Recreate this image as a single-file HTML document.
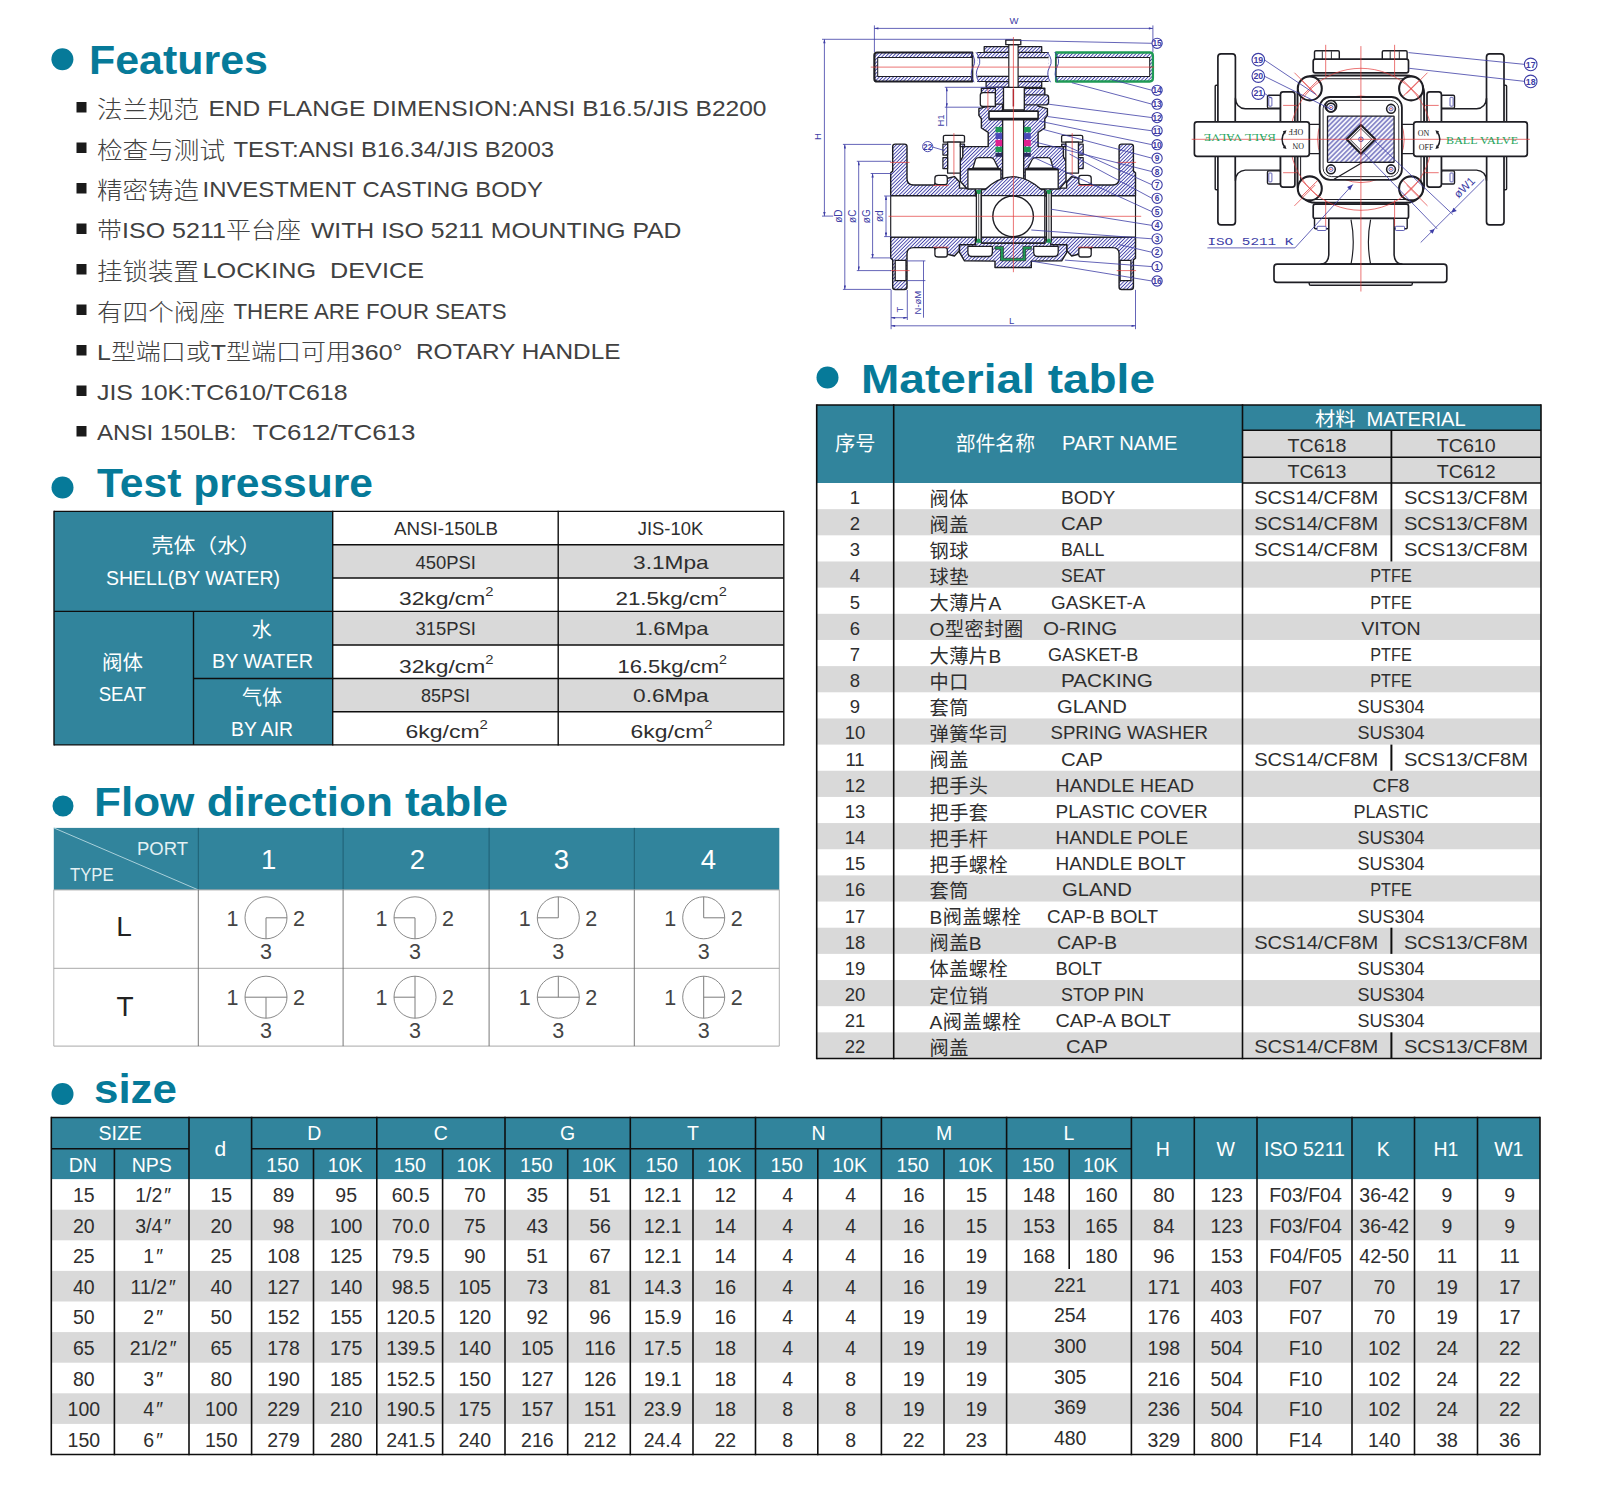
<!DOCTYPE html>
<html lang="zh">
<head>
<meta charset="utf-8">
<title>3-Way Flanged Ball Valve - Features, Test pressure, Flow direction, Material, Size</title>
<style>
html,body{margin:0;padding:0;background:#fff;}
body{width:1597px;height:1499px;overflow:hidden;}
svg{display:block;font-family:"Liberation Sans", "Noto Sans CJK SC", sans-serif;}
svg text{white-space:pre;}
</style>
</head>
<body>
<svg width="1597" height="1499" viewBox="0 0 1597 1499" xml:space="preserve">
<rect width="1597" height="1499" fill="#ffffff"/>
<g id="headings">
<circle cx="62.4" cy="59.3" r="11" fill="#067a99"/>
<text x="89.00" y="73.80" font-size="41" font-weight="bold" textLength="179.0" lengthAdjust="spacingAndGlyphs" fill="#067a99" >Features</text>
<circle cx="62.5" cy="487.5" r="11" fill="#067a99"/>
<text x="97.00" y="496.60" font-size="41" font-weight="bold" textLength="276.0" lengthAdjust="spacingAndGlyphs" fill="#067a99" >Test pressure</text>
<circle cx="63" cy="806" r="10.5" fill="#067a99"/>
<text x="94.00" y="815.60" font-size="41" font-weight="bold" textLength="414.0" lengthAdjust="spacingAndGlyphs" fill="#067a99" >Flow direction table</text>
<circle cx="62.5" cy="1094" r="11" fill="#067a99"/>
<text x="94.00" y="1103.00" font-size="41" font-weight="bold" textLength="83.0" lengthAdjust="spacingAndGlyphs" fill="#067a99" >size</text>
<circle cx="827.5" cy="377.5" r="11" fill="#067a99"/>
<text x="861.00" y="393.00" font-size="41" font-weight="bold" textLength="294.0" lengthAdjust="spacingAndGlyphs" fill="#067a99" >Material table</text>
</g>
<g id="features">
<rect x="76.50" y="102.00" width="10.00" height="10.50" fill="#1a1a1a" />
<text x="97.00" y="118.00" font-size="23.5" font-weight="300" textLength="102.0" lengthAdjust="spacingAndGlyphs" fill="#414141" >法兰规范</text>
<text x="208.50" y="116.00" font-size="22" textLength="558.0" lengthAdjust="spacingAndGlyphs" fill="#414141" >END FLANGE DIMENSION:ANSI B16.5/JIS B2200</text>
<rect x="76.50" y="142.50" width="10.00" height="10.50" fill="#1a1a1a" />
<text x="97.00" y="158.50" font-size="23.5" font-weight="300" textLength="128.0" lengthAdjust="spacingAndGlyphs" fill="#414141" >检查与测试</text>
<text x="233.50" y="156.50" font-size="22" textLength="320.5" lengthAdjust="spacingAndGlyphs" fill="#414141" >TEST:ANSI B16.34/JIS B2003</text>
<rect x="76.50" y="183.00" width="10.00" height="10.50" fill="#1a1a1a" />
<text x="97.00" y="199.00" font-size="23.5" font-weight="300" textLength="102.0" lengthAdjust="spacingAndGlyphs" fill="#414141" >精密铸造</text>
<text x="202.50" y="197.00" font-size="22" textLength="340.5" lengthAdjust="spacingAndGlyphs" fill="#414141" >INVESTMENT CASTING BODY</text>
<rect x="76.50" y="223.50" width="10.00" height="10.50" fill="#1a1a1a" />
<text x="97.00" y="238.30" font-size="22.5" font-weight="300" textLength="204.0" lengthAdjust="spacingAndGlyphs" fill="#414141" >带ISO 5211平台座</text>
<text x="311.00" y="237.50" font-size="22" textLength="370.5" lengthAdjust="spacingAndGlyphs" fill="#414141" >WITH ISO 5211 MOUNTING PAD</text>
<rect x="76.50" y="264.00" width="10.00" height="10.50" fill="#1a1a1a" />
<text x="97.00" y="280.00" font-size="23.5" font-weight="300" textLength="102.0" lengthAdjust="spacingAndGlyphs" fill="#414141" >挂锁装置</text>
<text x="202.50" y="278.00" font-size="22" textLength="221.5" lengthAdjust="spacingAndGlyphs" fill="#414141" >LOCKING  DEVICE</text>
<rect x="76.50" y="304.50" width="10.00" height="10.50" fill="#1a1a1a" />
<text x="97.00" y="320.50" font-size="23.5" font-weight="300" textLength="128.0" lengthAdjust="spacingAndGlyphs" fill="#414141" >有四个阀座</text>
<text x="233.50" y="318.50" font-size="22" textLength="273.0" lengthAdjust="spacingAndGlyphs" fill="#414141" >THERE ARE FOUR SEATS</text>
<rect x="76.50" y="345.00" width="10.00" height="10.50" fill="#1a1a1a" />
<text x="97.00" y="359.80" font-size="22.5" font-weight="300" textLength="305.5" lengthAdjust="spacingAndGlyphs" fill="#414141" >L型端口或T型端口可用360°</text>
<text x="416.00" y="359.00" font-size="22" textLength="204.5" lengthAdjust="spacingAndGlyphs" fill="#414141" >ROTARY HANDLE</text>
<rect x="76.50" y="385.50" width="10.00" height="10.50" fill="#1a1a1a" />
<text x="97.00" y="399.50" font-size="22" textLength="250.5" lengthAdjust="spacingAndGlyphs" fill="#414141" >JIS 10K:TC610/TC618</text>
<rect x="76.50" y="426.00" width="10.00" height="10.50" fill="#1a1a1a" />
<text x="97.00" y="440.00" font-size="22" textLength="139.5" lengthAdjust="spacingAndGlyphs" fill="#414141" >ANSI 150LB:</text>
<text x="252.50" y="440.00" font-size="22" textLength="163.0" lengthAdjust="spacingAndGlyphs" fill="#414141" >TC612/TC613</text>
</g>
<g id="test-pressure">
<rect x="54.00" y="511.40" width="278.70" height="233.50" fill="#31849c" />
<rect x="332.70" y="544.70" width="451.10" height="33.30" fill="#d9d9d9" />
<rect x="332.70" y="611.40" width="451.10" height="33.60" fill="#d9d9d9" />
<rect x="332.70" y="678.50" width="451.10" height="33.30" fill="#d9d9d9" />
<line x1="54.00" y1="611.40" x2="332.70" y2="611.40" stroke="#0e0e0e" stroke-width="1.4" />
<line x1="193.50" y1="611.40" x2="193.50" y2="744.90" stroke="#0e0e0e" stroke-width="1.4" />
<line x1="193.50" y1="678.50" x2="332.70" y2="678.50" stroke="#0e0e0e" stroke-width="1.4" />
<line x1="332.70" y1="511.40" x2="783.80" y2="511.40" stroke="#0e0e0e" stroke-width="1.4" />
<line x1="332.70" y1="544.70" x2="783.80" y2="544.70" stroke="#0e0e0e" stroke-width="1.4" />
<line x1="332.70" y1="578.00" x2="783.80" y2="578.00" stroke="#0e0e0e" stroke-width="1.4" />
<line x1="332.70" y1="611.40" x2="783.80" y2="611.40" stroke="#0e0e0e" stroke-width="1.4" />
<line x1="332.70" y1="645.00" x2="783.80" y2="645.00" stroke="#0e0e0e" stroke-width="1.4" />
<line x1="332.70" y1="678.50" x2="783.80" y2="678.50" stroke="#0e0e0e" stroke-width="1.4" />
<line x1="332.70" y1="711.80" x2="783.80" y2="711.80" stroke="#0e0e0e" stroke-width="1.4" />
<line x1="332.70" y1="744.90" x2="783.80" y2="744.90" stroke="#0e0e0e" stroke-width="1.4" />
<line x1="54.00" y1="511.40" x2="332.70" y2="511.40" stroke="#0e0e0e" stroke-width="1.4" />
<line x1="54.00" y1="744.90" x2="332.70" y2="744.90" stroke="#0e0e0e" stroke-width="1.4" />
<line x1="54.00" y1="510.70" x2="54.00" y2="745.60" stroke="#0e0e0e" stroke-width="1.4" />
<line x1="332.70" y1="510.70" x2="332.70" y2="745.60" stroke="#0e0e0e" stroke-width="1.4" />
<line x1="558.20" y1="510.70" x2="558.20" y2="745.60" stroke="#0e0e0e" stroke-width="1.4" />
<line x1="783.80" y1="510.70" x2="783.80" y2="745.60" stroke="#0e0e0e" stroke-width="1.4" />
<text x="151.50" y="553.00" font-size="20" textLength="109.5" lengthAdjust="spacingAndGlyphs" fill="#ffffff" >壳体（水）</text>
<text x="106.00" y="585.00" font-size="21" textLength="174.0" lengthAdjust="spacingAndGlyphs" fill="#ffffff" >SHELL(BY WATER)</text>
<text x="102.00" y="669.50" font-size="20" textLength="41.0" lengthAdjust="spacingAndGlyphs" fill="#ffffff" >阀体</text>
<text x="98.70" y="700.50" font-size="21" textLength="47.3" lengthAdjust="spacingAndGlyphs" fill="#ffffff" >SEAT</text>
<text x="261.70" y="636.50" font-size="20" text-anchor="middle" fill="#ffffff" >水</text>
<text x="212.00" y="668.00" font-size="21" textLength="101.0" lengthAdjust="spacingAndGlyphs" fill="#ffffff" >BY WATER</text>
<text x="242.00" y="704.50" font-size="20" textLength="40.0" lengthAdjust="spacingAndGlyphs" fill="#ffffff" >气体</text>
<text x="231.00" y="735.70" font-size="21" textLength="62.0" lengthAdjust="spacingAndGlyphs" fill="#ffffff" >BY AIR</text>
<text x="446.00" y="534.50" font-size="17.5" text-anchor="middle" textLength="104.0" lengthAdjust="spacingAndGlyphs" fill="#2e2e2e" >ANSI-150LB</text>
<text x="670.50" y="534.50" font-size="17.5" text-anchor="middle" textLength="65.5" lengthAdjust="spacingAndGlyphs" fill="#2e2e2e" >JIS-10K</text>
<text x="445.70" y="568.70" font-size="18.5" text-anchor="middle" textLength="60.5" lengthAdjust="spacingAndGlyphs" fill="#2e2e2e" >450PSI</text>
<text x="670.90" y="568.70" font-size="18.5" text-anchor="middle" textLength="75.7" lengthAdjust="spacingAndGlyphs" fill="#2e2e2e" >3.1Mpa</text>
<text x="446.20" y="604.50" font-size="18.5" text-anchor="middle" textLength="94.5" lengthAdjust="spacingAndGlyphs" fill="#2e2e2e" >32kg/cm<tspan font-size="12" dy="-9">2</tspan></text>
<text x="671.20" y="604.50" font-size="18.5" text-anchor="middle" textLength="111.5" lengthAdjust="spacingAndGlyphs" fill="#2e2e2e" >21.5kg/cm<tspan font-size="12" dy="-9">2</tspan></text>
<text x="445.70" y="635.00" font-size="18.5" text-anchor="middle" textLength="60.5" lengthAdjust="spacingAndGlyphs" fill="#2e2e2e" >315PSI</text>
<text x="671.80" y="635.00" font-size="18.5" text-anchor="middle" textLength="73.7" lengthAdjust="spacingAndGlyphs" fill="#2e2e2e" >1.6Mpa</text>
<text x="446.20" y="672.50" font-size="18.5" text-anchor="middle" textLength="94.5" lengthAdjust="spacingAndGlyphs" fill="#2e2e2e" >32kg/cm<tspan font-size="12" dy="-9">2</tspan></text>
<text x="672.20" y="672.50" font-size="18.5" text-anchor="middle" textLength="109.5" lengthAdjust="spacingAndGlyphs" fill="#2e2e2e" >16.5kg/cm<tspan font-size="12" dy="-9">2</tspan></text>
<text x="445.50" y="702.00" font-size="18.5" text-anchor="middle" textLength="49.0" lengthAdjust="spacingAndGlyphs" fill="#2e2e2e" >85PSI</text>
<text x="670.90" y="702.00" font-size="18.5" text-anchor="middle" textLength="75.7" lengthAdjust="spacingAndGlyphs" fill="#2e2e2e" >0.6Mpa</text>
<text x="446.70" y="737.50" font-size="18.5" text-anchor="middle" textLength="82.5" lengthAdjust="spacingAndGlyphs" fill="#2e2e2e" >6kg/cm<tspan font-size="12" dy="-9">2</tspan></text>
<text x="671.50" y="737.50" font-size="18.5" text-anchor="middle" textLength="82.0" lengthAdjust="spacingAndGlyphs" fill="#2e2e2e" >6kg/cm<tspan font-size="12" dy="-9">2</tspan></text>
</g>
<g id="flow-direction">
<rect x="53.80" y="827.90" width="725.50" height="62.00" fill="#31849c" />
<line x1="53.80" y1="827.90" x2="198.30" y2="889.90" stroke="#a9d0da" stroke-width="1" />
<line x1="198.30" y1="827.90" x2="198.30" y2="889.90" stroke="#1f5f72" stroke-width="1" />
<line x1="343.10" y1="827.90" x2="343.10" y2="889.90" stroke="#1f5f72" stroke-width="1" />
<line x1="489.10" y1="827.90" x2="489.10" y2="889.90" stroke="#1f5f72" stroke-width="1" />
<line x1="634.30" y1="827.90" x2="634.30" y2="889.90" stroke="#1f5f72" stroke-width="1" />
<line x1="53.80" y1="889.90" x2="779.30" y2="889.90" stroke="#a8a8a8" stroke-width="1" />
<line x1="53.80" y1="968.30" x2="779.30" y2="968.30" stroke="#a8a8a8" stroke-width="1" />
<line x1="53.80" y1="1046.10" x2="779.30" y2="1046.10" stroke="#a8a8a8" stroke-width="1" />
<line x1="53.80" y1="889.90" x2="53.80" y2="1046.10" stroke="#a8a8a8" stroke-width="0.9" />
<line x1="198.30" y1="889.90" x2="198.30" y2="1046.10" stroke="#6a6a6a" stroke-width="0.9" />
<line x1="343.10" y1="889.90" x2="343.10" y2="1046.10" stroke="#6a6a6a" stroke-width="0.9" />
<line x1="489.10" y1="889.90" x2="489.10" y2="1046.10" stroke="#6a6a6a" stroke-width="0.9" />
<line x1="634.30" y1="889.90" x2="634.30" y2="1046.10" stroke="#6a6a6a" stroke-width="0.9" />
<line x1="779.30" y1="889.90" x2="779.30" y2="1046.10" stroke="#a8a8a8" stroke-width="0.9" />
<text x="137.00" y="855.00" font-size="17.5" textLength="51.0" lengthAdjust="spacingAndGlyphs" fill="#e4f1f4" >PORT</text>
<text x="70.00" y="880.50" font-size="17.5" textLength="43.7" lengthAdjust="spacingAndGlyphs" fill="#e4f1f4" >TYPE</text>
<text x="268.70" y="868.70" font-size="27.5" text-anchor="middle" fill="#ffffff" >1</text>
<text x="417.50" y="868.70" font-size="27.5" text-anchor="middle" fill="#ffffff" >2</text>
<text x="561.50" y="868.70" font-size="27.5" text-anchor="middle" fill="#ffffff" >3</text>
<text x="708.50" y="868.70" font-size="27.5" text-anchor="middle" fill="#ffffff" >4</text>
<text x="124.00" y="936.00" font-size="28" text-anchor="middle" fill="#222" >L</text>
<text x="125.00" y="1015.70" font-size="28" text-anchor="middle" fill="#222" >T</text>
<circle cx="266" cy="917.8" r="21" fill="none" stroke="#7c7c7c" stroke-width="0.9"/>
<line x1="266.00" y1="917.80" x2="287.00" y2="917.80" stroke="#7c7c7c" stroke-width="1" />
<line x1="266.00" y1="917.80" x2="266.00" y2="938.80" stroke="#7c7c7c" stroke-width="1" />
<text x="232.50" y="925.80" font-size="21.5" text-anchor="middle" fill="#444" >1</text>
<text x="299.00" y="925.80" font-size="21.5" text-anchor="middle" fill="#444" >2</text>
<text x="266.00" y="958.60" font-size="21.5" text-anchor="middle" fill="#444" >3</text>
<circle cx="415" cy="917.8" r="21" fill="none" stroke="#7c7c7c" stroke-width="0.9"/>
<line x1="394.00" y1="917.80" x2="415.00" y2="917.80" stroke="#7c7c7c" stroke-width="1" />
<line x1="415.00" y1="917.80" x2="415.00" y2="938.80" stroke="#7c7c7c" stroke-width="1" />
<text x="381.50" y="925.80" font-size="21.5" text-anchor="middle" fill="#444" >1</text>
<text x="448.00" y="925.80" font-size="21.5" text-anchor="middle" fill="#444" >2</text>
<text x="415.00" y="958.60" font-size="21.5" text-anchor="middle" fill="#444" >3</text>
<circle cx="558.3" cy="917.8" r="21" fill="none" stroke="#7c7c7c" stroke-width="0.9"/>
<line x1="537.30" y1="917.80" x2="558.30" y2="917.80" stroke="#7c7c7c" stroke-width="1" />
<line x1="558.30" y1="896.80" x2="558.30" y2="917.80" stroke="#7c7c7c" stroke-width="1" />
<text x="524.80" y="925.80" font-size="21.5" text-anchor="middle" fill="#444" >1</text>
<text x="591.30" y="925.80" font-size="21.5" text-anchor="middle" fill="#444" >2</text>
<text x="558.30" y="958.60" font-size="21.5" text-anchor="middle" fill="#444" >3</text>
<circle cx="703.7" cy="917.8" r="21" fill="none" stroke="#7c7c7c" stroke-width="0.9"/>
<line x1="703.70" y1="896.80" x2="703.70" y2="917.80" stroke="#7c7c7c" stroke-width="1" />
<line x1="703.70" y1="917.80" x2="724.70" y2="917.80" stroke="#7c7c7c" stroke-width="1" />
<text x="670.20" y="925.80" font-size="21.5" text-anchor="middle" fill="#444" >1</text>
<text x="736.70" y="925.80" font-size="21.5" text-anchor="middle" fill="#444" >2</text>
<text x="703.70" y="958.60" font-size="21.5" text-anchor="middle" fill="#444" >3</text>
<circle cx="266" cy="997.2" r="21" fill="none" stroke="#7c7c7c" stroke-width="0.9"/>
<line x1="245.00" y1="997.20" x2="287.00" y2="997.20" stroke="#7c7c7c" stroke-width="1" />
<line x1="266.00" y1="997.20" x2="266.00" y2="1018.20" stroke="#7c7c7c" stroke-width="1" />
<text x="232.50" y="1005.20" font-size="21.5" text-anchor="middle" fill="#444" >1</text>
<text x="299.00" y="1005.20" font-size="21.5" text-anchor="middle" fill="#444" >2</text>
<text x="266.00" y="1038.00" font-size="21.5" text-anchor="middle" fill="#444" >3</text>
<circle cx="415" cy="997.2" r="21" fill="none" stroke="#7c7c7c" stroke-width="0.9"/>
<line x1="415.00" y1="976.20" x2="415.00" y2="1018.20" stroke="#7c7c7c" stroke-width="1" />
<line x1="394.00" y1="997.20" x2="415.00" y2="997.20" stroke="#7c7c7c" stroke-width="1" />
<text x="381.50" y="1005.20" font-size="21.5" text-anchor="middle" fill="#444" >1</text>
<text x="448.00" y="1005.20" font-size="21.5" text-anchor="middle" fill="#444" >2</text>
<text x="415.00" y="1038.00" font-size="21.5" text-anchor="middle" fill="#444" >3</text>
<circle cx="558.3" cy="997.2" r="21" fill="none" stroke="#7c7c7c" stroke-width="0.9"/>
<line x1="537.30" y1="997.20" x2="579.30" y2="997.20" stroke="#7c7c7c" stroke-width="1" />
<line x1="558.30" y1="976.20" x2="558.30" y2="997.20" stroke="#7c7c7c" stroke-width="1" />
<text x="524.80" y="1005.20" font-size="21.5" text-anchor="middle" fill="#444" >1</text>
<text x="591.30" y="1005.20" font-size="21.5" text-anchor="middle" fill="#444" >2</text>
<text x="558.30" y="1038.00" font-size="21.5" text-anchor="middle" fill="#444" >3</text>
<circle cx="703.7" cy="997.2" r="21" fill="none" stroke="#7c7c7c" stroke-width="0.9"/>
<line x1="703.70" y1="976.20" x2="703.70" y2="1018.20" stroke="#7c7c7c" stroke-width="1" />
<line x1="703.70" y1="997.20" x2="724.70" y2="997.20" stroke="#7c7c7c" stroke-width="1" />
<text x="670.20" y="1005.20" font-size="21.5" text-anchor="middle" fill="#444" >1</text>
<text x="736.70" y="1005.20" font-size="21.5" text-anchor="middle" fill="#444" >2</text>
<text x="703.70" y="1038.00" font-size="21.5" text-anchor="middle" fill="#444" >3</text>
</g>
<g id="material-table">
<rect x="816.70" y="405.00" width="425.80" height="78.00" fill="#31849c" />
<rect x="1242.50" y="405.00" width="298.50" height="25.30" fill="#31849c" />
<rect x="1242.50" y="430.30" width="298.50" height="52.70" fill="#d9d9d9" />
<rect x="816.70" y="509.16" width="724.30" height="26.16" fill="#d9d9d9" />
<rect x="816.70" y="561.48" width="724.30" height="26.16" fill="#d9d9d9" />
<rect x="816.70" y="613.80" width="724.30" height="26.16" fill="#d9d9d9" />
<rect x="816.70" y="666.12" width="724.30" height="26.16" fill="#d9d9d9" />
<rect x="816.70" y="718.44" width="724.30" height="26.16" fill="#d9d9d9" />
<rect x="816.70" y="770.76" width="724.30" height="26.16" fill="#d9d9d9" />
<rect x="816.70" y="823.08" width="724.30" height="26.16" fill="#d9d9d9" />
<rect x="816.70" y="875.40" width="724.30" height="26.16" fill="#d9d9d9" />
<rect x="816.70" y="927.72" width="724.30" height="26.16" fill="#d9d9d9" />
<rect x="816.70" y="980.04" width="724.30" height="26.16" fill="#d9d9d9" />
<rect x="816.70" y="1032.36" width="724.30" height="26.16" fill="#d9d9d9" />
<line x1="1242.50" y1="430.30" x2="1541.00" y2="430.30" stroke="#0e0e0e" stroke-width="1.4" />
<line x1="1242.50" y1="457.30" x2="1541.00" y2="457.30" stroke="#0e0e0e" stroke-width="1.4" />
<line x1="1242.50" y1="483.00" x2="1541.00" y2="483.00" stroke="#0e0e0e" stroke-width="1.4" />
<line x1="816.70" y1="405.00" x2="1541.00" y2="405.00" stroke="#0e0e0e" stroke-width="1.6" />
<line x1="816.70" y1="1058.52" x2="1541.00" y2="1058.52" stroke="#0e0e0e" stroke-width="1.6" />
<line x1="816.70" y1="404.20" x2="816.70" y2="1059.32" stroke="#0e0e0e" stroke-width="1.6" />
<line x1="893.70" y1="404.20" x2="893.70" y2="1059.32" stroke="#0e0e0e" stroke-width="1.6" />
<line x1="1242.50" y1="404.20" x2="1242.50" y2="1059.32" stroke="#0e0e0e" stroke-width="1.6" />
<line x1="1541.00" y1="404.20" x2="1541.00" y2="1059.32" stroke="#0e0e0e" stroke-width="1.6" />
<line x1="1391.40" y1="430.30" x2="1391.40" y2="561.48" stroke="#0e0e0e" stroke-width="1.8" />
<line x1="1391.40" y1="744.60" x2="1391.40" y2="770.76" stroke="#0e0e0e" stroke-width="2" />
<line x1="1391.40" y1="927.72" x2="1391.40" y2="953.88" stroke="#0e0e0e" stroke-width="2" />
<line x1="1391.40" y1="1032.36" x2="1391.40" y2="1058.52" stroke="#0e0e0e" stroke-width="2" />
<text x="835.00" y="450.50" font-size="20" textLength="40.5" lengthAdjust="spacingAndGlyphs" fill="#ffffff" >序号</text>
<text x="955.70" y="450.50" font-size="20" textLength="79.3" lengthAdjust="spacingAndGlyphs" fill="#ffffff" >部件名称</text>
<text x="1062.00" y="449.50" font-size="20" textLength="115.5" lengthAdjust="spacingAndGlyphs" fill="#ffffff" >PART NAME</text>
<text x="1315.00" y="426.00" font-size="19.5" textLength="150.7" lengthAdjust="spacingAndGlyphs" fill="#ffffff" >材料  MATERIAL</text>
<text x="1316.95" y="451.50" font-size="18.5" text-anchor="middle" textLength="59.0" lengthAdjust="spacingAndGlyphs" fill="#2e2e2e" >TC618</text>
<text x="1466.20" y="451.50" font-size="18.5" text-anchor="middle" textLength="59.0" lengthAdjust="spacingAndGlyphs" fill="#2e2e2e" >TC610</text>
<text x="1316.95" y="477.70" font-size="18.5" text-anchor="middle" textLength="59.0" lengthAdjust="spacingAndGlyphs" fill="#2e2e2e" >TC613</text>
<text x="1466.20" y="477.70" font-size="18.5" text-anchor="middle" textLength="59.0" lengthAdjust="spacingAndGlyphs" fill="#2e2e2e" >TC612</text>
<text x="855.00" y="504.00" font-size="18.5" text-anchor="middle" fill="#2e2e2e" >1</text>
<text x="929.50" y="505.60" font-size="19.2" letter-spacing="0.5" fill="#2e2e2e" >阀体</text>
<text x="1061.00" y="504.00" font-size="18.5" textLength="54.4" lengthAdjust="spacingAndGlyphs" fill="#2e2e2e" >BODY</text>
<text x="1316.15" y="504.00" font-size="18.5" text-anchor="middle" textLength="124.0" lengthAdjust="spacingAndGlyphs" fill="#2e2e2e" >SCS14/CF8M</text>
<text x="1465.90" y="504.00" font-size="18.5" text-anchor="middle" textLength="124.0" lengthAdjust="spacingAndGlyphs" fill="#2e2e2e" >SCS13/CF8M</text>
<text x="855.00" y="530.16" font-size="18.5" text-anchor="middle" fill="#2e2e2e" >2</text>
<text x="929.50" y="531.76" font-size="19.2" letter-spacing="0.5" fill="#2e2e2e" >阀盖</text>
<text x="1061.00" y="530.16" font-size="18.5" textLength="42.0" lengthAdjust="spacingAndGlyphs" fill="#2e2e2e" >CAP</text>
<text x="1316.15" y="530.16" font-size="18.5" text-anchor="middle" textLength="124.0" lengthAdjust="spacingAndGlyphs" fill="#2e2e2e" >SCS14/CF8M</text>
<text x="1465.90" y="530.16" font-size="18.5" text-anchor="middle" textLength="124.0" lengthAdjust="spacingAndGlyphs" fill="#2e2e2e" >SCS13/CF8M</text>
<text x="855.00" y="556.32" font-size="18.5" text-anchor="middle" fill="#2e2e2e" >3</text>
<text x="929.50" y="557.92" font-size="19.2" letter-spacing="0.5" fill="#2e2e2e" >钢球</text>
<text x="1061.00" y="556.32" font-size="18.5" textLength="43.4" lengthAdjust="spacingAndGlyphs" fill="#2e2e2e" >BALL</text>
<text x="1316.15" y="556.32" font-size="18.5" text-anchor="middle" textLength="124.0" lengthAdjust="spacingAndGlyphs" fill="#2e2e2e" >SCS14/CF8M</text>
<text x="1465.90" y="556.32" font-size="18.5" text-anchor="middle" textLength="124.0" lengthAdjust="spacingAndGlyphs" fill="#2e2e2e" >SCS13/CF8M</text>
<text x="855.00" y="582.48" font-size="18.5" text-anchor="middle" fill="#2e2e2e" >4</text>
<text x="929.50" y="584.08" font-size="19.2" letter-spacing="0.5" fill="#2e2e2e" >球垫</text>
<text x="1061.00" y="582.48" font-size="18.5" textLength="44.4" lengthAdjust="spacingAndGlyphs" fill="#2e2e2e" >SEAT</text>
<text x="1391.00" y="582.48" font-size="18.5" text-anchor="middle" textLength="41.5" lengthAdjust="spacingAndGlyphs" fill="#2e2e2e" >PTFE</text>
<text x="855.00" y="608.64" font-size="18.5" text-anchor="middle" fill="#2e2e2e" >5</text>
<text x="929.50" y="610.24" font-size="19.2" letter-spacing="0.5" fill="#2e2e2e" >大薄片A</text>
<text x="1051.00" y="608.64" font-size="18.5" textLength="94.3" lengthAdjust="spacingAndGlyphs" fill="#2e2e2e" >GASKET-A</text>
<text x="1391.00" y="608.64" font-size="18.5" text-anchor="middle" textLength="41.5" lengthAdjust="spacingAndGlyphs" fill="#2e2e2e" >PTFE</text>
<text x="855.00" y="634.80" font-size="18.5" text-anchor="middle" fill="#2e2e2e" >6</text>
<text x="929.50" y="636.40" font-size="19.2" letter-spacing="0.5" fill="#2e2e2e" >O型密封圈</text>
<text x="1043.00" y="634.80" font-size="18.5" textLength="74.4" lengthAdjust="spacingAndGlyphs" fill="#2e2e2e" >O-RING</text>
<text x="1391.00" y="634.80" font-size="18.5" text-anchor="middle" textLength="59.5" lengthAdjust="spacingAndGlyphs" fill="#2e2e2e" >VITON</text>
<text x="855.00" y="660.96" font-size="18.5" text-anchor="middle" fill="#2e2e2e" >7</text>
<text x="929.50" y="662.56" font-size="19.2" letter-spacing="0.5" fill="#2e2e2e" >大薄片B</text>
<text x="1048.00" y="660.96" font-size="18.5" textLength="90.3" lengthAdjust="spacingAndGlyphs" fill="#2e2e2e" >GASKET-B</text>
<text x="1391.00" y="660.96" font-size="18.5" text-anchor="middle" textLength="41.5" lengthAdjust="spacingAndGlyphs" fill="#2e2e2e" >PTFE</text>
<text x="855.00" y="687.12" font-size="18.5" text-anchor="middle" fill="#2e2e2e" >8</text>
<text x="929.50" y="688.72" font-size="19.2" letter-spacing="0.5" fill="#2e2e2e" >中口</text>
<text x="1061.00" y="687.12" font-size="18.5" textLength="91.8" lengthAdjust="spacingAndGlyphs" fill="#2e2e2e" >PACKING</text>
<text x="1391.00" y="687.12" font-size="18.5" text-anchor="middle" textLength="41.5" lengthAdjust="spacingAndGlyphs" fill="#2e2e2e" >PTFE</text>
<text x="855.00" y="713.28" font-size="18.5" text-anchor="middle" fill="#2e2e2e" >9</text>
<text x="929.50" y="714.88" font-size="19.2" letter-spacing="0.5" fill="#2e2e2e" >套筒</text>
<text x="1057.00" y="713.28" font-size="18.5" textLength="69.8" lengthAdjust="spacingAndGlyphs" fill="#2e2e2e" >GLAND</text>
<text x="1391.00" y="713.28" font-size="18.5" text-anchor="middle" textLength="67.0" lengthAdjust="spacingAndGlyphs" fill="#2e2e2e" >SUS304</text>
<text x="855.00" y="739.44" font-size="18.5" text-anchor="middle" fill="#2e2e2e" >10</text>
<text x="929.50" y="741.04" font-size="19.2" letter-spacing="0.5" fill="#2e2e2e" >弹簧华司</text>
<text x="1050.50" y="739.44" font-size="18.5" textLength="157.5" lengthAdjust="spacingAndGlyphs" fill="#2e2e2e" >SPRING WASHER</text>
<text x="1391.00" y="739.44" font-size="18.5" text-anchor="middle" textLength="67.0" lengthAdjust="spacingAndGlyphs" fill="#2e2e2e" >SUS304</text>
<text x="855.00" y="765.60" font-size="18.5" text-anchor="middle" fill="#2e2e2e" >11</text>
<text x="929.50" y="767.20" font-size="19.2" letter-spacing="0.5" fill="#2e2e2e" >阀盖</text>
<text x="1061.00" y="765.60" font-size="18.5" textLength="42.0" lengthAdjust="spacingAndGlyphs" fill="#2e2e2e" >CAP</text>
<text x="1316.15" y="765.60" font-size="18.5" text-anchor="middle" textLength="124.0" lengthAdjust="spacingAndGlyphs" fill="#2e2e2e" >SCS14/CF8M</text>
<text x="1465.90" y="765.60" font-size="18.5" text-anchor="middle" textLength="124.0" lengthAdjust="spacingAndGlyphs" fill="#2e2e2e" >SCS13/CF8M</text>
<text x="855.00" y="791.76" font-size="18.5" text-anchor="middle" fill="#2e2e2e" >12</text>
<text x="929.50" y="793.36" font-size="19.2" letter-spacing="0.5" fill="#2e2e2e" >把手头</text>
<text x="1055.50" y="791.76" font-size="18.5" textLength="138.5" lengthAdjust="spacingAndGlyphs" fill="#2e2e2e" >HANDLE HEAD</text>
<text x="1391.00" y="791.76" font-size="18.5" text-anchor="middle" textLength="37.0" lengthAdjust="spacingAndGlyphs" fill="#2e2e2e" >CF8</text>
<text x="855.00" y="817.92" font-size="18.5" text-anchor="middle" fill="#2e2e2e" >13</text>
<text x="929.50" y="819.52" font-size="19.2" letter-spacing="0.5" fill="#2e2e2e" >把手套</text>
<text x="1055.50" y="817.92" font-size="18.5" textLength="152.2" lengthAdjust="spacingAndGlyphs" fill="#2e2e2e" >PLASTIC COVER</text>
<text x="1391.00" y="817.92" font-size="18.5" text-anchor="middle" textLength="75.0" lengthAdjust="spacingAndGlyphs" fill="#2e2e2e" >PLASTIC</text>
<text x="855.00" y="844.08" font-size="18.5" text-anchor="middle" fill="#2e2e2e" >14</text>
<text x="929.50" y="845.68" font-size="19.2" letter-spacing="0.5" fill="#2e2e2e" >把手杆</text>
<text x="1055.50" y="844.08" font-size="18.5" textLength="132.5" lengthAdjust="spacingAndGlyphs" fill="#2e2e2e" >HANDLE POLE</text>
<text x="1391.00" y="844.08" font-size="18.5" text-anchor="middle" textLength="67.0" lengthAdjust="spacingAndGlyphs" fill="#2e2e2e" >SUS304</text>
<text x="855.00" y="870.24" font-size="18.5" text-anchor="middle" fill="#2e2e2e" >15</text>
<text x="929.50" y="871.84" font-size="19.2" letter-spacing="0.5" fill="#2e2e2e" >把手螺栓</text>
<text x="1055.50" y="870.24" font-size="18.5" textLength="130.2" lengthAdjust="spacingAndGlyphs" fill="#2e2e2e" >HANDLE BOLT</text>
<text x="1391.00" y="870.24" font-size="18.5" text-anchor="middle" textLength="67.0" lengthAdjust="spacingAndGlyphs" fill="#2e2e2e" >SUS304</text>
<text x="855.00" y="896.40" font-size="18.5" text-anchor="middle" fill="#2e2e2e" >16</text>
<text x="929.50" y="898.00" font-size="19.2" letter-spacing="0.5" fill="#2e2e2e" >套筒</text>
<text x="1062.00" y="896.40" font-size="18.5" textLength="69.8" lengthAdjust="spacingAndGlyphs" fill="#2e2e2e" >GLAND</text>
<text x="1391.00" y="896.40" font-size="18.5" text-anchor="middle" textLength="41.5" lengthAdjust="spacingAndGlyphs" fill="#2e2e2e" >PTFE</text>
<text x="855.00" y="922.56" font-size="18.5" text-anchor="middle" fill="#2e2e2e" >17</text>
<text x="929.50" y="924.16" font-size="19.2" letter-spacing="0.5" fill="#2e2e2e" >B阀盖螺栓</text>
<text x="1047.00" y="922.56" font-size="18.5" textLength="111.0" lengthAdjust="spacingAndGlyphs" fill="#2e2e2e" >CAP-B BOLT</text>
<text x="1391.00" y="922.56" font-size="18.5" text-anchor="middle" textLength="67.0" lengthAdjust="spacingAndGlyphs" fill="#2e2e2e" >SUS304</text>
<text x="855.00" y="948.72" font-size="18.5" text-anchor="middle" fill="#2e2e2e" >18</text>
<text x="929.50" y="950.32" font-size="19.2" letter-spacing="0.5" fill="#2e2e2e" >阀盖B</text>
<text x="1057.00" y="948.72" font-size="18.5" textLength="60.0" lengthAdjust="spacingAndGlyphs" fill="#2e2e2e" >CAP-B</text>
<text x="1316.15" y="948.72" font-size="18.5" text-anchor="middle" textLength="124.0" lengthAdjust="spacingAndGlyphs" fill="#2e2e2e" >SCS14/CF8M</text>
<text x="1465.90" y="948.72" font-size="18.5" text-anchor="middle" textLength="124.0" lengthAdjust="spacingAndGlyphs" fill="#2e2e2e" >SCS13/CF8M</text>
<text x="855.00" y="974.88" font-size="18.5" text-anchor="middle" fill="#2e2e2e" >19</text>
<text x="929.50" y="976.48" font-size="19.2" letter-spacing="0.5" fill="#2e2e2e" >体盖螺栓</text>
<text x="1055.50" y="974.88" font-size="18.5" textLength="46.5" lengthAdjust="spacingAndGlyphs" fill="#2e2e2e" >BOLT</text>
<text x="1391.00" y="974.88" font-size="18.5" text-anchor="middle" textLength="67.0" lengthAdjust="spacingAndGlyphs" fill="#2e2e2e" >SUS304</text>
<text x="855.00" y="1001.04" font-size="18.5" text-anchor="middle" fill="#2e2e2e" >20</text>
<text x="929.50" y="1002.64" font-size="19.2" letter-spacing="0.5" fill="#2e2e2e" >定位销</text>
<text x="1061.00" y="1001.04" font-size="18.5" textLength="83.0" lengthAdjust="spacingAndGlyphs" fill="#2e2e2e" >STOP PIN</text>
<text x="1391.00" y="1001.04" font-size="18.5" text-anchor="middle" textLength="67.0" lengthAdjust="spacingAndGlyphs" fill="#2e2e2e" >SUS304</text>
<text x="855.00" y="1027.20" font-size="18.5" text-anchor="middle" fill="#2e2e2e" >21</text>
<text x="929.50" y="1028.80" font-size="19.2" letter-spacing="0.5" fill="#2e2e2e" >A阀盖螺栓</text>
<text x="1055.50" y="1027.20" font-size="18.5" textLength="115.3" lengthAdjust="spacingAndGlyphs" fill="#2e2e2e" >CAP-A BOLT</text>
<text x="1391.00" y="1027.20" font-size="18.5" text-anchor="middle" textLength="67.0" lengthAdjust="spacingAndGlyphs" fill="#2e2e2e" >SUS304</text>
<text x="855.00" y="1053.36" font-size="18.5" text-anchor="middle" fill="#2e2e2e" >22</text>
<text x="929.50" y="1054.96" font-size="19.2" letter-spacing="0.5" fill="#2e2e2e" >阀盖</text>
<text x="1066.00" y="1053.36" font-size="18.5" textLength="42.0" lengthAdjust="spacingAndGlyphs" fill="#2e2e2e" >CAP</text>
<text x="1316.15" y="1053.36" font-size="18.5" text-anchor="middle" textLength="124.0" lengthAdjust="spacingAndGlyphs" fill="#2e2e2e" >SCS14/CF8M</text>
<text x="1465.90" y="1053.36" font-size="18.5" text-anchor="middle" textLength="124.0" lengthAdjust="spacingAndGlyphs" fill="#2e2e2e" >SCS13/CF8M</text>
</g>
<g id="size-table">
<rect x="51.30" y="1117.50" width="1488.70" height="61.60" fill="#31849c" />
<rect x="51.30" y="1209.70" width="1488.70" height="30.60" fill="#d9d9d9" />
<rect x="51.30" y="1270.90" width="1488.70" height="30.60" fill="#d9d9d9" />
<rect x="51.30" y="1332.10" width="1488.70" height="30.60" fill="#d9d9d9" />
<rect x="51.30" y="1393.30" width="1488.70" height="30.60" fill="#d9d9d9" />
<line x1="51.30" y1="1148.80" x2="189.00" y2="1148.80" stroke="#0e0e0e" stroke-width="1.6" />
<line x1="251.60" y1="1148.80" x2="376.80" y2="1148.80" stroke="#0e0e0e" stroke-width="1.6" />
<line x1="376.80" y1="1148.80" x2="505.00" y2="1148.80" stroke="#0e0e0e" stroke-width="1.6" />
<line x1="505.00" y1="1148.80" x2="630.30" y2="1148.80" stroke="#0e0e0e" stroke-width="1.6" />
<line x1="630.30" y1="1148.80" x2="755.50" y2="1148.80" stroke="#0e0e0e" stroke-width="1.6" />
<line x1="755.50" y1="1148.80" x2="881.40" y2="1148.80" stroke="#0e0e0e" stroke-width="1.6" />
<line x1="881.40" y1="1148.80" x2="1006.60" y2="1148.80" stroke="#0e0e0e" stroke-width="1.6" />
<line x1="1006.60" y1="1148.80" x2="1131.40" y2="1148.80" stroke="#0e0e0e" stroke-width="1.6" />
<line x1="51.30" y1="1116.70" x2="51.30" y2="1455.30" stroke="#0e0e0e" stroke-width="1.6" />
<line x1="114.40" y1="1148.80" x2="114.40" y2="1455.30" stroke="#0e0e0e" stroke-width="1.6" />
<line x1="189.00" y1="1116.70" x2="189.00" y2="1455.30" stroke="#0e0e0e" stroke-width="1.6" />
<line x1="251.60" y1="1116.70" x2="251.60" y2="1455.30" stroke="#0e0e0e" stroke-width="1.6" />
<line x1="313.50" y1="1148.80" x2="313.50" y2="1455.30" stroke="#0e0e0e" stroke-width="1.6" />
<line x1="376.80" y1="1116.70" x2="376.80" y2="1455.30" stroke="#0e0e0e" stroke-width="1.6" />
<line x1="442.60" y1="1148.80" x2="442.60" y2="1455.30" stroke="#0e0e0e" stroke-width="1.6" />
<line x1="505.00" y1="1116.70" x2="505.00" y2="1455.30" stroke="#0e0e0e" stroke-width="1.6" />
<line x1="567.70" y1="1148.80" x2="567.70" y2="1455.30" stroke="#0e0e0e" stroke-width="1.6" />
<line x1="630.30" y1="1116.70" x2="630.30" y2="1455.30" stroke="#0e0e0e" stroke-width="1.6" />
<line x1="693.00" y1="1148.80" x2="693.00" y2="1455.30" stroke="#0e0e0e" stroke-width="1.6" />
<line x1="755.50" y1="1116.70" x2="755.50" y2="1455.30" stroke="#0e0e0e" stroke-width="1.6" />
<line x1="817.80" y1="1148.80" x2="817.80" y2="1455.30" stroke="#0e0e0e" stroke-width="1.6" />
<line x1="881.40" y1="1116.70" x2="881.40" y2="1455.30" stroke="#0e0e0e" stroke-width="1.6" />
<line x1="944.00" y1="1148.80" x2="944.00" y2="1455.30" stroke="#0e0e0e" stroke-width="1.6" />
<line x1="1006.60" y1="1116.70" x2="1006.60" y2="1455.30" stroke="#0e0e0e" stroke-width="1.6" />
<line x1="1069.20" y1="1148.80" x2="1069.20" y2="1268.90" stroke="#0e0e0e" stroke-width="1.6" />
<line x1="1131.40" y1="1116.70" x2="1131.40" y2="1455.30" stroke="#0e0e0e" stroke-width="1.6" />
<line x1="1194.30" y1="1116.70" x2="1194.30" y2="1455.30" stroke="#0e0e0e" stroke-width="1.6" />
<line x1="1257.00" y1="1116.70" x2="1257.00" y2="1455.30" stroke="#0e0e0e" stroke-width="1.6" />
<line x1="1352.00" y1="1116.70" x2="1352.00" y2="1455.30" stroke="#0e0e0e" stroke-width="1.6" />
<line x1="1414.50" y1="1116.70" x2="1414.50" y2="1455.30" stroke="#0e0e0e" stroke-width="1.6" />
<line x1="1477.50" y1="1116.70" x2="1477.50" y2="1455.30" stroke="#0e0e0e" stroke-width="1.6" />
<line x1="1540.00" y1="1116.70" x2="1540.00" y2="1455.30" stroke="#0e0e0e" stroke-width="1.6" />
<line x1="51.30" y1="1117.50" x2="1540.00" y2="1117.50" stroke="#0e0e0e" stroke-width="1.6" />
<line x1="51.30" y1="1454.50" x2="1540.00" y2="1454.50" stroke="#0e0e0e" stroke-width="1.6" />
<text x="120.15" y="1140.00" font-size="19.5" text-anchor="middle" fill="#ffffff" >SIZE</text>
<text x="314.20" y="1140.00" font-size="19.5" text-anchor="middle" fill="#ffffff" >D</text>
<text x="282.55" y="1172.00" font-size="19.5" text-anchor="middle" fill="#ffffff" >150</text>
<text x="345.15" y="1172.00" font-size="19.5" text-anchor="middle" fill="#ffffff" >10K</text>
<text x="440.90" y="1140.00" font-size="19.5" text-anchor="middle" fill="#ffffff" >C</text>
<text x="409.70" y="1172.00" font-size="19.5" text-anchor="middle" fill="#ffffff" >150</text>
<text x="473.80" y="1172.00" font-size="19.5" text-anchor="middle" fill="#ffffff" >10K</text>
<text x="567.65" y="1140.00" font-size="19.5" text-anchor="middle" fill="#ffffff" >G</text>
<text x="536.35" y="1172.00" font-size="19.5" text-anchor="middle" fill="#ffffff" >150</text>
<text x="599.00" y="1172.00" font-size="19.5" text-anchor="middle" fill="#ffffff" >10K</text>
<text x="692.90" y="1140.00" font-size="19.5" text-anchor="middle" fill="#ffffff" >T</text>
<text x="661.65" y="1172.00" font-size="19.5" text-anchor="middle" fill="#ffffff" >150</text>
<text x="724.25" y="1172.00" font-size="19.5" text-anchor="middle" fill="#ffffff" >10K</text>
<text x="818.45" y="1140.00" font-size="19.5" text-anchor="middle" fill="#ffffff" >N</text>
<text x="786.65" y="1172.00" font-size="19.5" text-anchor="middle" fill="#ffffff" >150</text>
<text x="849.60" y="1172.00" font-size="19.5" text-anchor="middle" fill="#ffffff" >10K</text>
<text x="944.00" y="1140.00" font-size="19.5" text-anchor="middle" fill="#ffffff" >M</text>
<text x="912.70" y="1172.00" font-size="19.5" text-anchor="middle" fill="#ffffff" >150</text>
<text x="975.30" y="1172.00" font-size="19.5" text-anchor="middle" fill="#ffffff" >10K</text>
<text x="1069.00" y="1140.00" font-size="19.5" text-anchor="middle" fill="#ffffff" >L</text>
<text x="1037.90" y="1172.00" font-size="19.5" text-anchor="middle" fill="#ffffff" >150</text>
<text x="1100.30" y="1172.00" font-size="19.5" text-anchor="middle" fill="#ffffff" >10K</text>
<text x="82.85" y="1172.00" font-size="19.5" text-anchor="middle" fill="#ffffff" >DN</text>
<text x="151.70" y="1172.00" font-size="19.5" text-anchor="middle" fill="#ffffff" >NPS</text>
<text x="220.30" y="1156.00" font-size="21" text-anchor="middle" fill="#ffffff" >d</text>
<text x="1162.85" y="1155.50" font-size="19.5" text-anchor="middle" fill="#ffffff" >H</text>
<text x="1225.65" y="1155.50" font-size="19.5" text-anchor="middle" fill="#ffffff" >W</text>
<text x="1304.50" y="1155.50" font-size="19.5" text-anchor="middle" fill="#ffffff" >ISO 5211</text>
<text x="1383.25" y="1155.50" font-size="19.5" text-anchor="middle" fill="#ffffff" >K</text>
<text x="1446.00" y="1155.50" font-size="19.5" text-anchor="middle" fill="#ffffff" >H1</text>
<text x="1508.75" y="1155.50" font-size="19.5" text-anchor="middle" fill="#ffffff" >W1</text>
<text x="83.85" y="1201.90" font-size="19.5" text-anchor="middle" fill="#2e2e2e" >15</text>
<text x="152.70" y="1201.90" font-size="19.5" text-anchor="middle" fill="#2e2e2e" >1/2<tspan font-style="italic" dx="1">″</tspan></text>
<text x="221.30" y="1201.90" font-size="19.5" text-anchor="middle" fill="#2e2e2e" >15</text>
<text x="283.55" y="1201.90" font-size="19.5" text-anchor="middle" fill="#2e2e2e" >89</text>
<text x="346.15" y="1201.90" font-size="19.5" text-anchor="middle" fill="#2e2e2e" >95</text>
<text x="410.70" y="1201.90" font-size="19.5" text-anchor="middle" fill="#2e2e2e" >60.5</text>
<text x="474.80" y="1201.90" font-size="19.5" text-anchor="middle" fill="#2e2e2e" >70</text>
<text x="537.35" y="1201.90" font-size="19.5" text-anchor="middle" fill="#2e2e2e" >35</text>
<text x="600.00" y="1201.90" font-size="19.5" text-anchor="middle" fill="#2e2e2e" >51</text>
<text x="662.65" y="1201.90" font-size="19.5" text-anchor="middle" fill="#2e2e2e" >12.1</text>
<text x="725.25" y="1201.90" font-size="19.5" text-anchor="middle" fill="#2e2e2e" >12</text>
<text x="787.65" y="1201.90" font-size="19.5" text-anchor="middle" fill="#2e2e2e" >4</text>
<text x="850.60" y="1201.90" font-size="19.5" text-anchor="middle" fill="#2e2e2e" >4</text>
<text x="913.70" y="1201.90" font-size="19.5" text-anchor="middle" fill="#2e2e2e" >16</text>
<text x="976.30" y="1201.90" font-size="19.5" text-anchor="middle" fill="#2e2e2e" >15</text>
<text x="1038.90" y="1201.90" font-size="19.5" text-anchor="middle" fill="#2e2e2e" >148</text>
<text x="1101.30" y="1201.90" font-size="19.5" text-anchor="middle" fill="#2e2e2e" >160</text>
<text x="1163.85" y="1201.90" font-size="19.5" text-anchor="middle" fill="#2e2e2e" >80</text>
<text x="1226.65" y="1201.90" font-size="19.5" text-anchor="middle" fill="#2e2e2e" >123</text>
<text x="1305.50" y="1201.90" font-size="19.5" text-anchor="middle" fill="#2e2e2e" >F03/F04</text>
<text x="1384.25" y="1201.90" font-size="19.5" text-anchor="middle" fill="#2e2e2e" >36-42</text>
<text x="1447.00" y="1201.90" font-size="19.5" text-anchor="middle" fill="#2e2e2e" >9</text>
<text x="1509.75" y="1201.90" font-size="19.5" text-anchor="middle" fill="#2e2e2e" >9</text>
<text x="83.85" y="1232.50" font-size="19.5" text-anchor="middle" fill="#2e2e2e" >20</text>
<text x="152.70" y="1232.50" font-size="19.5" text-anchor="middle" fill="#2e2e2e" >3/4<tspan font-style="italic" dx="1">″</tspan></text>
<text x="221.30" y="1232.50" font-size="19.5" text-anchor="middle" fill="#2e2e2e" >20</text>
<text x="283.55" y="1232.50" font-size="19.5" text-anchor="middle" fill="#2e2e2e" >98</text>
<text x="346.15" y="1232.50" font-size="19.5" text-anchor="middle" fill="#2e2e2e" >100</text>
<text x="410.70" y="1232.50" font-size="19.5" text-anchor="middle" fill="#2e2e2e" >70.0</text>
<text x="474.80" y="1232.50" font-size="19.5" text-anchor="middle" fill="#2e2e2e" >75</text>
<text x="537.35" y="1232.50" font-size="19.5" text-anchor="middle" fill="#2e2e2e" >43</text>
<text x="600.00" y="1232.50" font-size="19.5" text-anchor="middle" fill="#2e2e2e" >56</text>
<text x="662.65" y="1232.50" font-size="19.5" text-anchor="middle" fill="#2e2e2e" >12.1</text>
<text x="725.25" y="1232.50" font-size="19.5" text-anchor="middle" fill="#2e2e2e" >14</text>
<text x="787.65" y="1232.50" font-size="19.5" text-anchor="middle" fill="#2e2e2e" >4</text>
<text x="850.60" y="1232.50" font-size="19.5" text-anchor="middle" fill="#2e2e2e" >4</text>
<text x="913.70" y="1232.50" font-size="19.5" text-anchor="middle" fill="#2e2e2e" >16</text>
<text x="976.30" y="1232.50" font-size="19.5" text-anchor="middle" fill="#2e2e2e" >15</text>
<text x="1038.90" y="1232.50" font-size="19.5" text-anchor="middle" fill="#2e2e2e" >153</text>
<text x="1101.30" y="1232.50" font-size="19.5" text-anchor="middle" fill="#2e2e2e" >165</text>
<text x="1163.85" y="1232.50" font-size="19.5" text-anchor="middle" fill="#2e2e2e" >84</text>
<text x="1226.65" y="1232.50" font-size="19.5" text-anchor="middle" fill="#2e2e2e" >123</text>
<text x="1305.50" y="1232.50" font-size="19.5" text-anchor="middle" fill="#2e2e2e" >F03/F04</text>
<text x="1384.25" y="1232.50" font-size="19.5" text-anchor="middle" fill="#2e2e2e" >36-42</text>
<text x="1447.00" y="1232.50" font-size="19.5" text-anchor="middle" fill="#2e2e2e" >9</text>
<text x="1509.75" y="1232.50" font-size="19.5" text-anchor="middle" fill="#2e2e2e" >9</text>
<text x="83.85" y="1263.10" font-size="19.5" text-anchor="middle" fill="#2e2e2e" >25</text>
<text x="152.70" y="1263.10" font-size="19.5" text-anchor="middle" fill="#2e2e2e" >1<tspan font-style="italic" dx="1">″</tspan></text>
<text x="221.30" y="1263.10" font-size="19.5" text-anchor="middle" fill="#2e2e2e" >25</text>
<text x="283.55" y="1263.10" font-size="19.5" text-anchor="middle" fill="#2e2e2e" >108</text>
<text x="346.15" y="1263.10" font-size="19.5" text-anchor="middle" fill="#2e2e2e" >125</text>
<text x="410.70" y="1263.10" font-size="19.5" text-anchor="middle" fill="#2e2e2e" >79.5</text>
<text x="474.80" y="1263.10" font-size="19.5" text-anchor="middle" fill="#2e2e2e" >90</text>
<text x="537.35" y="1263.10" font-size="19.5" text-anchor="middle" fill="#2e2e2e" >51</text>
<text x="600.00" y="1263.10" font-size="19.5" text-anchor="middle" fill="#2e2e2e" >67</text>
<text x="662.65" y="1263.10" font-size="19.5" text-anchor="middle" fill="#2e2e2e" >12.1</text>
<text x="725.25" y="1263.10" font-size="19.5" text-anchor="middle" fill="#2e2e2e" >14</text>
<text x="787.65" y="1263.10" font-size="19.5" text-anchor="middle" fill="#2e2e2e" >4</text>
<text x="850.60" y="1263.10" font-size="19.5" text-anchor="middle" fill="#2e2e2e" >4</text>
<text x="913.70" y="1263.10" font-size="19.5" text-anchor="middle" fill="#2e2e2e" >16</text>
<text x="976.30" y="1263.10" font-size="19.5" text-anchor="middle" fill="#2e2e2e" >19</text>
<text x="1038.90" y="1263.10" font-size="19.5" text-anchor="middle" fill="#2e2e2e" >168</text>
<text x="1101.30" y="1263.10" font-size="19.5" text-anchor="middle" fill="#2e2e2e" >180</text>
<text x="1163.85" y="1263.10" font-size="19.5" text-anchor="middle" fill="#2e2e2e" >96</text>
<text x="1226.65" y="1263.10" font-size="19.5" text-anchor="middle" fill="#2e2e2e" >153</text>
<text x="1305.50" y="1263.10" font-size="19.5" text-anchor="middle" fill="#2e2e2e" >F04/F05</text>
<text x="1384.25" y="1263.10" font-size="19.5" text-anchor="middle" fill="#2e2e2e" >42-50</text>
<text x="1447.00" y="1263.10" font-size="19.5" text-anchor="middle" fill="#2e2e2e" >11</text>
<text x="1509.75" y="1263.10" font-size="19.5" text-anchor="middle" fill="#2e2e2e" >11</text>
<text x="83.85" y="1293.70" font-size="19.5" text-anchor="middle" fill="#2e2e2e" >40</text>
<text x="152.70" y="1293.70" font-size="19.5" text-anchor="middle" fill="#2e2e2e" >11/2<tspan font-style="italic" dx="1">″</tspan></text>
<text x="221.30" y="1293.70" font-size="19.5" text-anchor="middle" fill="#2e2e2e" >40</text>
<text x="283.55" y="1293.70" font-size="19.5" text-anchor="middle" fill="#2e2e2e" >127</text>
<text x="346.15" y="1293.70" font-size="19.5" text-anchor="middle" fill="#2e2e2e" >140</text>
<text x="410.70" y="1293.70" font-size="19.5" text-anchor="middle" fill="#2e2e2e" >98.5</text>
<text x="474.80" y="1293.70" font-size="19.5" text-anchor="middle" fill="#2e2e2e" >105</text>
<text x="537.35" y="1293.70" font-size="19.5" text-anchor="middle" fill="#2e2e2e" >73</text>
<text x="600.00" y="1293.70" font-size="19.5" text-anchor="middle" fill="#2e2e2e" >81</text>
<text x="662.65" y="1293.70" font-size="19.5" text-anchor="middle" fill="#2e2e2e" >14.3</text>
<text x="725.25" y="1293.70" font-size="19.5" text-anchor="middle" fill="#2e2e2e" >16</text>
<text x="787.65" y="1293.70" font-size="19.5" text-anchor="middle" fill="#2e2e2e" >4</text>
<text x="850.60" y="1293.70" font-size="19.5" text-anchor="middle" fill="#2e2e2e" >4</text>
<text x="913.70" y="1293.70" font-size="19.5" text-anchor="middle" fill="#2e2e2e" >16</text>
<text x="976.30" y="1293.70" font-size="19.5" text-anchor="middle" fill="#2e2e2e" >19</text>
<text x="1070.20" y="1291.70" font-size="19.5" text-anchor="middle" fill="#2e2e2e" >221</text>
<text x="1163.85" y="1293.70" font-size="19.5" text-anchor="middle" fill="#2e2e2e" >171</text>
<text x="1226.65" y="1293.70" font-size="19.5" text-anchor="middle" fill="#2e2e2e" >403</text>
<text x="1305.50" y="1293.70" font-size="19.5" text-anchor="middle" fill="#2e2e2e" >F07</text>
<text x="1384.25" y="1293.70" font-size="19.5" text-anchor="middle" fill="#2e2e2e" >70</text>
<text x="1447.00" y="1293.70" font-size="19.5" text-anchor="middle" fill="#2e2e2e" >19</text>
<text x="1509.75" y="1293.70" font-size="19.5" text-anchor="middle" fill="#2e2e2e" >17</text>
<text x="83.85" y="1324.30" font-size="19.5" text-anchor="middle" fill="#2e2e2e" >50</text>
<text x="152.70" y="1324.30" font-size="19.5" text-anchor="middle" fill="#2e2e2e" >2<tspan font-style="italic" dx="1">″</tspan></text>
<text x="221.30" y="1324.30" font-size="19.5" text-anchor="middle" fill="#2e2e2e" >50</text>
<text x="283.55" y="1324.30" font-size="19.5" text-anchor="middle" fill="#2e2e2e" >152</text>
<text x="346.15" y="1324.30" font-size="19.5" text-anchor="middle" fill="#2e2e2e" >155</text>
<text x="410.70" y="1324.30" font-size="19.5" text-anchor="middle" fill="#2e2e2e" >120.5</text>
<text x="474.80" y="1324.30" font-size="19.5" text-anchor="middle" fill="#2e2e2e" >120</text>
<text x="537.35" y="1324.30" font-size="19.5" text-anchor="middle" fill="#2e2e2e" >92</text>
<text x="600.00" y="1324.30" font-size="19.5" text-anchor="middle" fill="#2e2e2e" >96</text>
<text x="662.65" y="1324.30" font-size="19.5" text-anchor="middle" fill="#2e2e2e" >15.9</text>
<text x="725.25" y="1324.30" font-size="19.5" text-anchor="middle" fill="#2e2e2e" >16</text>
<text x="787.65" y="1324.30" font-size="19.5" text-anchor="middle" fill="#2e2e2e" >4</text>
<text x="850.60" y="1324.30" font-size="19.5" text-anchor="middle" fill="#2e2e2e" >4</text>
<text x="913.70" y="1324.30" font-size="19.5" text-anchor="middle" fill="#2e2e2e" >19</text>
<text x="976.30" y="1324.30" font-size="19.5" text-anchor="middle" fill="#2e2e2e" >19</text>
<text x="1070.20" y="1322.30" font-size="19.5" text-anchor="middle" fill="#2e2e2e" >254</text>
<text x="1163.85" y="1324.30" font-size="19.5" text-anchor="middle" fill="#2e2e2e" >176</text>
<text x="1226.65" y="1324.30" font-size="19.5" text-anchor="middle" fill="#2e2e2e" >403</text>
<text x="1305.50" y="1324.30" font-size="19.5" text-anchor="middle" fill="#2e2e2e" >F07</text>
<text x="1384.25" y="1324.30" font-size="19.5" text-anchor="middle" fill="#2e2e2e" >70</text>
<text x="1447.00" y="1324.30" font-size="19.5" text-anchor="middle" fill="#2e2e2e" >19</text>
<text x="1509.75" y="1324.30" font-size="19.5" text-anchor="middle" fill="#2e2e2e" >17</text>
<text x="83.85" y="1354.90" font-size="19.5" text-anchor="middle" fill="#2e2e2e" >65</text>
<text x="152.70" y="1354.90" font-size="19.5" text-anchor="middle" fill="#2e2e2e" >21/2<tspan font-style="italic" dx="1">″</tspan></text>
<text x="221.30" y="1354.90" font-size="19.5" text-anchor="middle" fill="#2e2e2e" >65</text>
<text x="283.55" y="1354.90" font-size="19.5" text-anchor="middle" fill="#2e2e2e" >178</text>
<text x="346.15" y="1354.90" font-size="19.5" text-anchor="middle" fill="#2e2e2e" >175</text>
<text x="410.70" y="1354.90" font-size="19.5" text-anchor="middle" fill="#2e2e2e" >139.5</text>
<text x="474.80" y="1354.90" font-size="19.5" text-anchor="middle" fill="#2e2e2e" >140</text>
<text x="537.35" y="1354.90" font-size="19.5" text-anchor="middle" fill="#2e2e2e" >105</text>
<text x="600.00" y="1354.90" font-size="19.5" text-anchor="middle" fill="#2e2e2e" >116</text>
<text x="662.65" y="1354.90" font-size="19.5" text-anchor="middle" fill="#2e2e2e" >17.5</text>
<text x="725.25" y="1354.90" font-size="19.5" text-anchor="middle" fill="#2e2e2e" >18</text>
<text x="787.65" y="1354.90" font-size="19.5" text-anchor="middle" fill="#2e2e2e" >4</text>
<text x="850.60" y="1354.90" font-size="19.5" text-anchor="middle" fill="#2e2e2e" >4</text>
<text x="913.70" y="1354.90" font-size="19.5" text-anchor="middle" fill="#2e2e2e" >19</text>
<text x="976.30" y="1354.90" font-size="19.5" text-anchor="middle" fill="#2e2e2e" >19</text>
<text x="1070.20" y="1352.90" font-size="19.5" text-anchor="middle" fill="#2e2e2e" >300</text>
<text x="1163.85" y="1354.90" font-size="19.5" text-anchor="middle" fill="#2e2e2e" >198</text>
<text x="1226.65" y="1354.90" font-size="19.5" text-anchor="middle" fill="#2e2e2e" >504</text>
<text x="1305.50" y="1354.90" font-size="19.5" text-anchor="middle" fill="#2e2e2e" >F10</text>
<text x="1384.25" y="1354.90" font-size="19.5" text-anchor="middle" fill="#2e2e2e" >102</text>
<text x="1447.00" y="1354.90" font-size="19.5" text-anchor="middle" fill="#2e2e2e" >24</text>
<text x="1509.75" y="1354.90" font-size="19.5" text-anchor="middle" fill="#2e2e2e" >22</text>
<text x="83.85" y="1385.50" font-size="19.5" text-anchor="middle" fill="#2e2e2e" >80</text>
<text x="152.70" y="1385.50" font-size="19.5" text-anchor="middle" fill="#2e2e2e" >3<tspan font-style="italic" dx="1">″</tspan></text>
<text x="221.30" y="1385.50" font-size="19.5" text-anchor="middle" fill="#2e2e2e" >80</text>
<text x="283.55" y="1385.50" font-size="19.5" text-anchor="middle" fill="#2e2e2e" >190</text>
<text x="346.15" y="1385.50" font-size="19.5" text-anchor="middle" fill="#2e2e2e" >185</text>
<text x="410.70" y="1385.50" font-size="19.5" text-anchor="middle" fill="#2e2e2e" >152.5</text>
<text x="474.80" y="1385.50" font-size="19.5" text-anchor="middle" fill="#2e2e2e" >150</text>
<text x="537.35" y="1385.50" font-size="19.5" text-anchor="middle" fill="#2e2e2e" >127</text>
<text x="600.00" y="1385.50" font-size="19.5" text-anchor="middle" fill="#2e2e2e" >126</text>
<text x="662.65" y="1385.50" font-size="19.5" text-anchor="middle" fill="#2e2e2e" >19.1</text>
<text x="725.25" y="1385.50" font-size="19.5" text-anchor="middle" fill="#2e2e2e" >18</text>
<text x="787.65" y="1385.50" font-size="19.5" text-anchor="middle" fill="#2e2e2e" >4</text>
<text x="850.60" y="1385.50" font-size="19.5" text-anchor="middle" fill="#2e2e2e" >8</text>
<text x="913.70" y="1385.50" font-size="19.5" text-anchor="middle" fill="#2e2e2e" >19</text>
<text x="976.30" y="1385.50" font-size="19.5" text-anchor="middle" fill="#2e2e2e" >19</text>
<text x="1070.20" y="1383.50" font-size="19.5" text-anchor="middle" fill="#2e2e2e" >305</text>
<text x="1163.85" y="1385.50" font-size="19.5" text-anchor="middle" fill="#2e2e2e" >216</text>
<text x="1226.65" y="1385.50" font-size="19.5" text-anchor="middle" fill="#2e2e2e" >504</text>
<text x="1305.50" y="1385.50" font-size="19.5" text-anchor="middle" fill="#2e2e2e" >F10</text>
<text x="1384.25" y="1385.50" font-size="19.5" text-anchor="middle" fill="#2e2e2e" >102</text>
<text x="1447.00" y="1385.50" font-size="19.5" text-anchor="middle" fill="#2e2e2e" >24</text>
<text x="1509.75" y="1385.50" font-size="19.5" text-anchor="middle" fill="#2e2e2e" >22</text>
<text x="83.85" y="1416.10" font-size="19.5" text-anchor="middle" fill="#2e2e2e" >100</text>
<text x="152.70" y="1416.10" font-size="19.5" text-anchor="middle" fill="#2e2e2e" >4<tspan font-style="italic" dx="1">″</tspan></text>
<text x="221.30" y="1416.10" font-size="19.5" text-anchor="middle" fill="#2e2e2e" >100</text>
<text x="283.55" y="1416.10" font-size="19.5" text-anchor="middle" fill="#2e2e2e" >229</text>
<text x="346.15" y="1416.10" font-size="19.5" text-anchor="middle" fill="#2e2e2e" >210</text>
<text x="410.70" y="1416.10" font-size="19.5" text-anchor="middle" fill="#2e2e2e" >190.5</text>
<text x="474.80" y="1416.10" font-size="19.5" text-anchor="middle" fill="#2e2e2e" >175</text>
<text x="537.35" y="1416.10" font-size="19.5" text-anchor="middle" fill="#2e2e2e" >157</text>
<text x="600.00" y="1416.10" font-size="19.5" text-anchor="middle" fill="#2e2e2e" >151</text>
<text x="662.65" y="1416.10" font-size="19.5" text-anchor="middle" fill="#2e2e2e" >23.9</text>
<text x="725.25" y="1416.10" font-size="19.5" text-anchor="middle" fill="#2e2e2e" >18</text>
<text x="787.65" y="1416.10" font-size="19.5" text-anchor="middle" fill="#2e2e2e" >8</text>
<text x="850.60" y="1416.10" font-size="19.5" text-anchor="middle" fill="#2e2e2e" >8</text>
<text x="913.70" y="1416.10" font-size="19.5" text-anchor="middle" fill="#2e2e2e" >19</text>
<text x="976.30" y="1416.10" font-size="19.5" text-anchor="middle" fill="#2e2e2e" >19</text>
<text x="1070.20" y="1414.10" font-size="19.5" text-anchor="middle" fill="#2e2e2e" >369</text>
<text x="1163.85" y="1416.10" font-size="19.5" text-anchor="middle" fill="#2e2e2e" >236</text>
<text x="1226.65" y="1416.10" font-size="19.5" text-anchor="middle" fill="#2e2e2e" >504</text>
<text x="1305.50" y="1416.10" font-size="19.5" text-anchor="middle" fill="#2e2e2e" >F10</text>
<text x="1384.25" y="1416.10" font-size="19.5" text-anchor="middle" fill="#2e2e2e" >102</text>
<text x="1447.00" y="1416.10" font-size="19.5" text-anchor="middle" fill="#2e2e2e" >24</text>
<text x="1509.75" y="1416.10" font-size="19.5" text-anchor="middle" fill="#2e2e2e" >22</text>
<text x="83.85" y="1446.70" font-size="19.5" text-anchor="middle" fill="#2e2e2e" >150</text>
<text x="152.70" y="1446.70" font-size="19.5" text-anchor="middle" fill="#2e2e2e" >6<tspan font-style="italic" dx="1">″</tspan></text>
<text x="221.30" y="1446.70" font-size="19.5" text-anchor="middle" fill="#2e2e2e" >150</text>
<text x="283.55" y="1446.70" font-size="19.5" text-anchor="middle" fill="#2e2e2e" >279</text>
<text x="346.15" y="1446.70" font-size="19.5" text-anchor="middle" fill="#2e2e2e" >280</text>
<text x="410.70" y="1446.70" font-size="19.5" text-anchor="middle" fill="#2e2e2e" >241.5</text>
<text x="474.80" y="1446.70" font-size="19.5" text-anchor="middle" fill="#2e2e2e" >240</text>
<text x="537.35" y="1446.70" font-size="19.5" text-anchor="middle" fill="#2e2e2e" >216</text>
<text x="600.00" y="1446.70" font-size="19.5" text-anchor="middle" fill="#2e2e2e" >212</text>
<text x="662.65" y="1446.70" font-size="19.5" text-anchor="middle" fill="#2e2e2e" >24.4</text>
<text x="725.25" y="1446.70" font-size="19.5" text-anchor="middle" fill="#2e2e2e" >22</text>
<text x="787.65" y="1446.70" font-size="19.5" text-anchor="middle" fill="#2e2e2e" >8</text>
<text x="850.60" y="1446.70" font-size="19.5" text-anchor="middle" fill="#2e2e2e" >8</text>
<text x="913.70" y="1446.70" font-size="19.5" text-anchor="middle" fill="#2e2e2e" >22</text>
<text x="976.30" y="1446.70" font-size="19.5" text-anchor="middle" fill="#2e2e2e" >23</text>
<text x="1070.20" y="1444.70" font-size="19.5" text-anchor="middle" fill="#2e2e2e" >480</text>
<text x="1163.85" y="1446.70" font-size="19.5" text-anchor="middle" fill="#2e2e2e" >329</text>
<text x="1226.65" y="1446.70" font-size="19.5" text-anchor="middle" fill="#2e2e2e" >800</text>
<text x="1305.50" y="1446.70" font-size="19.5" text-anchor="middle" fill="#2e2e2e" >F14</text>
<text x="1384.25" y="1446.70" font-size="19.5" text-anchor="middle" fill="#2e2e2e" >140</text>
<text x="1447.00" y="1446.70" font-size="19.5" text-anchor="middle" fill="#2e2e2e" >38</text>
<text x="1509.75" y="1446.70" font-size="19.5" text-anchor="middle" fill="#2e2e2e" >36</text>
</g>
<defs>
<pattern id="hatch" width="2.5" height="2.5" patternUnits="userSpaceOnUse" patternTransform="rotate(45)"><rect width="2.5" height="2.5" fill="#f6f6fc"/><line x1="1.25" y1="0" x2="1.25" y2="2.5" stroke="#3d3da6" stroke-width="0.85"/></pattern>
<pattern id="hatch2" width="3.4" height="3.4" patternUnits="userSpaceOnUse" patternTransform="rotate(45)"><rect width="3.4" height="3.4" fill="#f4f4fb"/><line x1="1.7" y1="0" x2="1.7" y2="3.4" stroke="#3d3da6" stroke-width="1"/></pattern>
<marker id="ar" viewBox="0 0 10 6" refX="10" refY="3" markerWidth="6.5" markerHeight="3" orient="auto-start-reverse"><path d="M0,0 L10,3 L0,6 z" fill="#3d3da6"/></marker>
</defs>
<g id="drawing-section">
<path d="M890.7,195.7L890.7,172.8L892.7,171.1L892.7,146.6Q892.7,144.1 895.2,144.1L904.5,144.1Q907.0,144.1 907.0,146.6L907.0,178.8Q907.0,185.0 913.8,185.0L934.4,185.0L937.1,178.3L942.9,176.6L947.6,178.3L954.4,176.6L959.5,182.1L959.5,188.1L976.7,188.1L976.7,195.7Z" fill="url(#hatch)" stroke="#1e1e24" stroke-width="1.43" stroke-linejoin="round" />
<path d="M890.7,237.1L976.7,237.1L976.7,244.7L959.5,244.7L959.5,250.6L954.4,256.0L947.6,254.3L942.9,256.0L937.1,254.3L934.4,247.6L913.8,247.6Q907.0,247.6 907.0,253.7L907.0,287.0Q907.0,289.5 904.5,289.5L895.2,289.5Q892.7,289.5 892.7,287.0L892.7,259.9L890.7,258.2L890.7,237.1Z" fill="url(#hatch)" stroke="#1e1e24" stroke-width="1.43" stroke-linejoin="round" />
<path d="M1135.5,195.7L1135.5,172.8L1133.4,171.1L1133.4,146.6Q1133.4,144.1 1130.9,144.1L1121.6,144.1Q1119.1,144.1 1119.1,146.6L1119.1,178.8Q1119.1,185.0 1112.3,185.0L1091.7,185.0L1089.0,178.3L1083.2,176.6L1078.5,178.3L1071.7,176.6L1066.6,182.1L1066.6,188.1L1049.4,188.1L1049.4,195.7Z" fill="url(#hatch)" stroke="#1e1e24" stroke-width="1.43" stroke-linejoin="round" />
<path d="M1135.5,237.1L1049.4,237.1L1049.4,244.7L1066.6,244.7L1066.6,250.6L1071.7,256.0L1078.5,254.3L1083.2,256.0L1089.0,254.3L1091.7,247.6L1112.3,247.6Q1119.1,247.6 1119.1,253.7L1119.1,287.0Q1119.1,289.5 1121.6,289.5L1130.9,289.5Q1133.4,289.5 1133.4,287.0L1133.4,259.9L1135.5,258.2L1135.5,237.1Z" fill="url(#hatch)" stroke="#1e1e24" stroke-width="1.43" stroke-linejoin="round" />
<path d="M895.2,260.4L906.0,260.4L906.0,280.7L895.2,280.7Z" fill="#fff" stroke="#1e1e24" stroke-width="1.3" stroke-linejoin="round" />
<path d="M1130.9,260.4L1120.1,260.4L1120.1,280.7L1130.9,280.7Z" fill="#fff" stroke="#1e1e24" stroke-width="1.3" stroke-linejoin="round" />
<path d="M934.9,177.9Q934.9,175.4 938.3,175.4L945.1,175.4Q947.3,175.4 947.3,177.9L947.3,182.6Q947.3,184.7 945.1,184.7L938.3,184.7Q934.9,184.7 934.9,182.6Z" fill="#fff" stroke="#1e1e24" stroke-width="1.3" stroke-linejoin="round" />
<path d="M1091.2,177.9Q1091.2,175.4 1087.8,175.4L1081.0,175.4Q1078.8,175.4 1078.8,177.9L1078.8,182.6Q1078.8,184.7 1081.0,184.7L1087.8,184.7Q1091.2,184.7 1091.2,182.6Z" fill="#fff" stroke="#1e1e24" stroke-width="1.3" stroke-linejoin="round" />
<path d="M934.9,249.8Q934.9,247.6 938.3,247.6L945.1,247.6Q947.3,247.6 947.3,249.8L947.3,254.8Q947.3,257.0 945.1,257.0L938.3,257.0Q934.9,257.0 934.9,254.8Z" fill="#fff" stroke="#1e1e24" stroke-width="1.3" stroke-linejoin="round" />
<path d="M1091.2,249.8Q1091.2,247.6 1087.8,247.6L1081.0,247.6Q1078.8,247.6 1078.8,249.8L1078.8,254.8Q1078.8,257.0 1081.0,257.0L1087.8,257.0Q1091.2,257.0 1091.2,254.8Z" fill="#fff" stroke="#1e1e24" stroke-width="1.3" stroke-linejoin="round" />
<path d="M890.7,195.7L1135.5,195.7L1135.5,237.1L890.7,237.1Z" fill="#fff" stroke="none" stroke-width="0" stroke-linejoin="round" />
<line x1="890.7" y1="195.7" x2="1135.5" y2="195.7" stroke="#1e1e24" stroke-width="1.43" />
<line x1="890.7" y1="237.1" x2="1135.5" y2="237.1" stroke="#1e1e24" stroke-width="1.43" />
<line x1="890.7" y1="195.7" x2="890.7" y2="237.1" stroke="#1e1e24" stroke-width="1.17" />
<line x1="1135.5" y1="195.7" x2="1135.5" y2="237.1" stroke="#1e1e24" stroke-width="1.17" />
<path d="M962.8,156.8L962.8,146.6L988.2,146.6L988.2,132.3L981.4,128.0L981.4,118.7L978.9,115.4L978.9,108.6L988.2,106.1L988.2,96.8L981.4,96.8L981.4,88.3L1044.8,88.3L1044.8,96.8L1038.1,96.8L1038.1,106.1L1047.4,108.6L1047.4,115.4L1044.8,118.7L1044.8,128.0L1038.1,132.3L1038.1,146.6L1063.4,146.6L1063.4,156.8L1066.0,161.0L1066.0,181.3L1059.2,188.9L1050.8,188.9L1050.8,195.7L1044.8,195.7L1044.8,189.7L981.4,189.7L981.4,195.7L975.5,195.7L975.5,188.9L967.1,188.9L960.3,181.3L960.3,161.0Z" fill="url(#hatch)" stroke="#1e1e24" stroke-width="1.43" stroke-linejoin="round" />
<path d="M975.5,237.1L981.4,237.1L981.4,243.0L1044.8,243.0L1044.8,237.1L1050.8,237.1L1050.8,244.7L1066.8,244.7L1066.8,252.3L1061.7,260.8L1031.3,261.1L1031.3,267.5L995.0,267.5L995.0,261.1L964.5,260.8L959.5,252.3L959.5,244.7L975.5,244.7Z" fill="url(#hatch)" stroke="#1e1e24" stroke-width="1.43" stroke-linejoin="round" />
<path d="M967.9,169.5L1000.9,169.5L1000.9,188.9L967.9,188.9Z" fill="#fff" stroke="#1e1e24" stroke-width="1.3" stroke-linejoin="round" />
<path d="M1058.2,169.5L1025.2,169.5L1025.2,188.9L1058.2,188.9Z" fill="#fff" stroke="#1e1e24" stroke-width="1.3" stroke-linejoin="round" />
<path d="M973.0,168.1L975.5,159.3Q976.4,157.6 978.9,157.6L990.7,157.6Q992.9,157.6 994.1,159.7L998.3,168.1Z" fill="#fff" stroke="#1e1e24" stroke-width="1.3" stroke-linejoin="round" />
<path d="M1053.1,168.1L1050.6,159.3Q1049.7,157.6 1047.2,157.6L1035.4,157.6Q1033.2,157.6 1032.0,159.7L1027.8,168.1Z" fill="#fff" stroke="#1e1e24" stroke-width="1.3" stroke-linejoin="round" />
<path d="M967.9,246.4L992.4,246.4L992.4,252.3Q992.4,256.5 988.2,256.5L972.1,256.5Q967.9,256.5 967.9,252.3Z" fill="#fff" stroke="#1e1e24" stroke-width="1.3" stroke-linejoin="round" />
<path d="M1058.2,246.4L1033.7,246.4L1033.7,252.3Q1033.7,256.5 1037.9,256.5L1054.0,256.5Q1058.2,256.5 1058.2,252.3Z" fill="#fff" stroke="#1e1e24" stroke-width="1.3" stroke-linejoin="round" />
<line x1="967.9" y1="169.1" x2="1000.9" y2="169.1" stroke="#1e1e24" stroke-width="2.34" />
<line x1="1025.4" y1="169.1" x2="1058.4" y2="169.1" stroke="#1e1e24" stroke-width="2.34" />
<path d="M1002.6,86.6L1023.7,86.6L1023.7,184.7L1002.6,184.7Z" fill="#fff" stroke="#1e1e24" stroke-width="1.43" stroke-linejoin="round" />
<path d="M981.4,189.7L984.8,189.7Q998.3,177.1 1013.1,176.6Q1027.9,177.1 1041.5,189.7L1044.8,189.7L1044.8,195.7L981.4,195.7Z" fill="url(#hatch)" stroke="#1e1e24" stroke-width="1.3" stroke-linejoin="round" />
<path d="M981.4,237.1L1044.8,237.1L1044.8,243.0L981.4,243.0Z" fill="url(#hatch)" stroke="#1e1e24" stroke-width="1.3" stroke-linejoin="round" />
<path d="M981.4,195.7L1044.8,195.7L1044.8,237.1L981.4,237.1Z" fill="#fff" stroke="#1e1e24" stroke-width="1.3" stroke-linejoin="round" />
<circle cx="1013.1" cy="216.3" r="20.3" fill="#fff" stroke="#1e1e24" stroke-width="1.43" />
<path d="M976.4,191.4L981.1,191.4L981.1,241.3L976.4,241.3Z" fill="#fff" stroke="#1e1e24" stroke-width="1.3" stroke-linejoin="round" />
<line x1="978.7" y1="193.1" x2="978.7" y2="239.6" stroke="#1e1e24" stroke-width="0.78" />
<path d="M976.0,190.1L981.4,190.1L980.1,194.0L977.4,194.0Z" fill="#1f9a55" stroke="none" stroke-width="0" stroke-linejoin="round" />
<path d="M976.0,242.7L981.4,242.7L980.1,238.8L977.4,238.8Z" fill="#1f9a55" stroke="none" stroke-width="0" stroke-linejoin="round" />
<path d="M1046.5,191.4L1051.3,191.4L1051.3,241.3L1046.5,241.3Z" fill="#fff" stroke="#1e1e24" stroke-width="1.3" stroke-linejoin="round" />
<line x1="1048.9" y1="193.1" x2="1048.9" y2="239.6" stroke="#1e1e24" stroke-width="0.78" />
<path d="M1046.2,190.1L1051.6,190.1L1050.2,194.0L1047.5,194.0Z" fill="#1f9a55" stroke="none" stroke-width="0" stroke-linejoin="round" />
<path d="M1046.2,242.7L1051.6,242.7L1050.2,238.8L1047.5,238.8Z" fill="#1f9a55" stroke="none" stroke-width="0" stroke-linejoin="round" />
<path d="M995.0,246.4L1003.4,246.4L1003.4,258.2L1022.9,258.2L1022.9,246.4L1031.3,246.4L1031.3,249.3L1025.7,249.3L1025.7,260.8L1000.5,260.8L1000.5,249.3L995.0,249.3Z" fill="#1f9a55" stroke="#1e1e24" stroke-width="0.65" stroke-linejoin="round" />
<path d="M989.0,111.1L1038.1,111.1L1038.1,118.7L989.0,118.7Z" fill="#fff" stroke="#1e1e24" stroke-width="1.56" stroke-linejoin="round" />
<line x1="989.0" y1="119.1" x2="1038.1" y2="119.1" stroke="#1e1e24" stroke-width="2.6" />
<path d="M995.5,126.9L1002.2,126.9L1002.2,132.3L995.5,132.3Z" fill="#1f9a55" stroke="none" stroke-width="0" stroke-linejoin="round" />
<path d="M995.5,133.1L1002.2,133.1L1002.2,139.0L995.5,139.0Z" fill="#4a4ab8" stroke="none" stroke-width="0" stroke-linejoin="round" />
<path d="M995.5,139.9L1002.2,139.9L1002.2,146.1L995.5,146.1Z" fill="#e0208f" stroke="none" stroke-width="0" stroke-linejoin="round" />
<path d="M995.5,146.8L1002.2,146.8L1002.2,152.2L995.5,152.2Z" fill="#1f9a55" stroke="none" stroke-width="0" stroke-linejoin="round" />
<path d="M995.5,152.9L1002.2,152.9L1002.2,156.8L995.5,156.8Z" fill="#2b2b60" stroke="none" stroke-width="0" stroke-linejoin="round" />
<path d="M1024.0,126.9L1030.8,126.9L1030.8,132.3L1024.0,132.3Z" fill="#1f9a55" stroke="none" stroke-width="0" stroke-linejoin="round" />
<path d="M1024.0,133.1L1030.8,133.1L1030.8,139.0L1024.0,139.0Z" fill="#4a4ab8" stroke="none" stroke-width="0" stroke-linejoin="round" />
<path d="M1024.0,139.9L1030.8,139.9L1030.8,146.1L1024.0,146.1Z" fill="#e0208f" stroke="none" stroke-width="0" stroke-linejoin="round" />
<path d="M1024.0,146.8L1030.8,146.8L1030.8,152.2L1024.0,152.2Z" fill="#1f9a55" stroke="none" stroke-width="0" stroke-linejoin="round" />
<path d="M1024.0,152.9L1030.8,152.9L1030.8,156.8L1024.0,156.8Z" fill="#2b2b60" stroke="none" stroke-width="0" stroke-linejoin="round" />
<path d="M943.4,136.5Q943.4,135.3 945.1,135.3L962.8,135.3Q964.5,135.3 964.5,136.5L964.5,142.1L943.4,142.1Z" fill="#fff" stroke="#1e1e24" stroke-width="1.3" stroke-linejoin="round" />
<path d="M947.6,142.1L960.3,142.1L960.3,173.2L947.6,173.2Z" fill="#fff" stroke="#1e1e24" stroke-width="1.3" stroke-linejoin="round" />
<path d="M942.9,144.1L947.6,144.1L947.6,155.1L942.9,155.1Z" fill="url(#hatch)" stroke="#1e1e24" stroke-width="1.17" stroke-linejoin="round" />
<path d="M942.9,157.6L947.6,157.6L947.6,168.6L942.9,168.6Z" fill="url(#hatch)" stroke="#1e1e24" stroke-width="1.17" stroke-linejoin="round" />
<path d="M960.3,144.1L964.5,144.1L964.5,146.6L960.3,146.6Z" fill="url(#hatch)" stroke="#1e1e24" stroke-width="1.17" stroke-linejoin="round" />
<path d="M1082.7,136.5Q1082.7,135.3 1081.0,135.3L1063.3,135.3Q1061.6,135.3 1061.6,136.5L1061.6,142.1L1082.7,142.1Z" fill="#fff" stroke="#1e1e24" stroke-width="1.3" stroke-linejoin="round" />
<path d="M1078.5,142.1L1065.8,142.1L1065.8,173.2L1078.5,173.2Z" fill="#fff" stroke="#1e1e24" stroke-width="1.3" stroke-linejoin="round" />
<path d="M1083.2,144.1L1078.5,144.1L1078.5,155.1L1083.2,155.1Z" fill="url(#hatch)" stroke="#1e1e24" stroke-width="1.17" stroke-linejoin="round" />
<path d="M1083.2,157.6L1078.5,157.6L1078.5,168.6L1083.2,168.6Z" fill="url(#hatch)" stroke="#1e1e24" stroke-width="1.17" stroke-linejoin="round" />
<path d="M1065.8,144.1L1061.6,144.1L1061.6,146.6L1065.8,146.6Z" fill="url(#hatch)" stroke="#1e1e24" stroke-width="1.17" stroke-linejoin="round" />
<line x1="953.9" y1="133.1" x2="953.9" y2="175.4" stroke="#e23a3a" stroke-width="0.7" />
<line x1="1072.2" y1="133.1" x2="1072.2" y2="175.4" stroke="#e23a3a" stroke-width="0.7" />
<path d="M984.2,46.7L1041.7,46.7L1041.7,52.5L984.2,52.5Z" fill="url(#hatch)" stroke="#1e1e24" stroke-width="1.3" stroke-linejoin="round" />
<path d="M986.1,81.5L1041.7,81.5L1041.7,87.3L986.1,87.3Z" fill="url(#hatch)" stroke="#1e1e24" stroke-width="1.3" stroke-linejoin="round" />
<path d="M977.3,52.5L1048.6,52.5L1048.6,81.5L977.3,81.5Z" fill="url(#hatch)" stroke="none" stroke-width="0" stroke-linejoin="round" />
<path d="M977.3,57.6L1048.6,57.6L1048.6,76.4L977.3,76.4Z" fill="#fff" stroke="none" stroke-width="0" stroke-linejoin="round" />
<line x1="977.3" y1="52.5" x2="1048.6" y2="52.5" stroke="#1e1e24" stroke-width="1.17" />
<line x1="977.3" y1="57.6" x2="1048.6" y2="57.6" stroke="#1e1e24" stroke-width="1.17" />
<line x1="977.3" y1="76.4" x2="1048.6" y2="76.4" stroke="#1e1e24" stroke-width="1.17" />
<line x1="977.3" y1="81.5" x2="1048.6" y2="81.5" stroke="#1e1e24" stroke-width="1.17" />
<path d="M877.2,52.5L972.2,52.5L972.2,81.5L877.2,81.5Q874.4,81.5 874.4,78.7L874.4,55.3Q874.4,52.5 877.2,52.5Z" fill="url(#hatch)" stroke="#1e1e24" stroke-width="2.21" stroke-linejoin="round" />
<path d="M877.7,57.6L972.2,57.6L972.2,76.4L877.7,76.4Z" fill="#fff" stroke="#1e1e24" stroke-width="1.04" stroke-linejoin="round" />
<path d="M1056.1,52.5L1149.7,52.5Q1152.9,52.5 1152.9,55.8L1152.9,78.3Q1152.9,81.5 1149.7,81.5L1056.1,81.5Z" fill="url(#hatch)" stroke="#1f9a55" stroke-width="2.3" stroke-linejoin="round" />
<path d="M1056.1,57.6L1149.7,57.6L1149.7,76.4L1056.1,76.4Z" fill="#fff" stroke="#1e1e24" stroke-width="1.04" stroke-linejoin="round" />
<path d="M970.8,52.1Q977.3,60.2 973.1,67.1Q968.9,74.1 974.0,82.2" fill="none" stroke="#3d3da6" stroke-width="0.9" stroke-linejoin="round" />
<path d="M975.9,52.1Q982.4,60.2 978.2,67.1Q974.0,74.1 979.1,82.2" fill="none" stroke="#3d3da6" stroke-width="0.9" stroke-linejoin="round" />
<path d="M1047.3,52.1Q1053.7,60.2 1049.6,67.1Q1045.4,74.1 1050.5,82.2" fill="none" stroke="#3d3da6" stroke-width="0.9" stroke-linejoin="round" />
<path d="M1054.7,52.1Q1061.2,60.2 1057.0,67.1Q1052.8,74.1 1057.9,82.2" fill="none" stroke="#3d3da6" stroke-width="0.9" stroke-linejoin="round" />
<path d="M980.3,94.9Q980.3,92.6 983.3,92.6L995.4,92.6L995.4,106.5L983.3,106.5Q980.3,106.5 980.3,104.2Z" fill="#fff" stroke="#1e1e24" stroke-width="1.3" stroke-linejoin="round" />
<line x1="987.9" y1="89.1" x2="987.9" y2="110.0" stroke="#e23a3a" stroke-width="0.7" />
<path d="M1024.3,94.9L1046.3,94.9Q1048.6,94.9 1048.6,97.3L1048.6,102.6Q1048.6,104.9 1046.3,104.9L1024.3,104.9Z" fill="url(#hatch)" stroke="#1e1e24" stroke-width="1.3" stroke-linejoin="round" />
<path d="M995.4,87.3L1003.5,87.3L1003.5,104.2L995.4,104.2Z" fill="url(#hatch)" stroke="#1e1e24" stroke-width="1.17" stroke-linejoin="round" />
<path d="M1003.5,87.3L1024.3,87.3L1024.3,110.0L1003.5,110.0Z" fill="#fff" stroke="#1e1e24" stroke-width="1.3" stroke-linejoin="round" />
<path d="M1008.8,44.7L1018.1,44.7L1018.1,87.3L1008.8,87.3Z" fill="#fff" stroke="#1e1e24" stroke-width="1.17" stroke-linejoin="round" />
<path d="M1005.8,40.0L1020.8,40.0L1020.8,44.7L1005.8,44.7Z" fill="#fff" stroke="#1e1e24" stroke-width="1.3" stroke-linejoin="round" />
<line x1="1013.4" y1="89.1" x2="1013.4" y2="106.5" stroke="#7a1020" stroke-width="1.4" />
<line x1="870.7" y1="67.1" x2="1154.1" y2="67.1" stroke="#e23a3a" stroke-width="0.7" />
<line x1="1013.4" y1="37.0" x2="1013.4" y2="272.2" stroke="#e23a3a" stroke-width="0.7" />
<line x1="888.5" y1="216.3" x2="1141.2" y2="216.3" stroke="#e23a3a" stroke-width="0.7" />
<line x1="890.1" y1="162.4" x2="909.6" y2="162.4" stroke="#e23a3a" stroke-width="0.7" />
<line x1="890.1" y1="270.6" x2="909.6" y2="270.6" stroke="#e23a3a" stroke-width="0.7" />
<line x1="1116.7" y1="162.4" x2="1136.1" y2="162.4" stroke="#e23a3a" stroke-width="0.7" />
<line x1="1116.7" y1="270.6" x2="1136.1" y2="270.6" stroke="#e23a3a" stroke-width="0.7" />
<line x1="933.3" y1="185.5" x2="948.5" y2="185.5" stroke="#e23a3a" stroke-width="0.7" />
<line x1="933.3" y1="247.2" x2="948.5" y2="247.2" stroke="#e23a3a" stroke-width="0.7" />
<line x1="1077.8" y1="185.5" x2="1093.0" y2="185.5" stroke="#e23a3a" stroke-width="0.7" />
<line x1="1077.8" y1="247.2" x2="1093.0" y2="247.2" stroke="#e23a3a" stroke-width="0.7" />
<line x1="874.4" y1="28.4" x2="1152.9" y2="28.4" stroke="#3d3da6" stroke-width="0.8" marker-start="url(#ar)" marker-end="url(#ar)"/>
<line x1="874.4" y1="25.4" x2="874.4" y2="52.1" stroke="#3d3da6" stroke-width="0.8" />
<line x1="1152.9" y1="25.4" x2="1152.9" y2="52.1" stroke="#3d3da6" stroke-width="0.8" />
<text x="1013.9" y="24.3" font-size="9.5" text-anchor="middle" fill="#3d3da6" >W</text>
<line x1="824.4" y1="39.3" x2="824.4" y2="216.1" stroke="#3d3da6" stroke-width="0.8" marker-start="url(#ar)" marker-end="url(#ar)"/>
<line x1="822.0" y1="39.3" x2="1013.4" y2="39.3" stroke="#3d3da6" stroke-width="0.8" />
<line x1="822.0" y1="216.1" x2="833.2" y2="216.1" stroke="#3d3da6" stroke-width="0.8" />
<text x="821.1" y="136.6" font-size="9.5" text-anchor="middle" fill="#3d3da6" transform="rotate(-90 821.1 136.6)" >H</text>
<line x1="946.7" y1="87.3" x2="946.7" y2="107.2" stroke="#3d3da6" stroke-width="0.8" marker-start="url(#ar)" marker-end="url(#ar)"/>
<line x1="944.8" y1="87.3" x2="1003.5" y2="87.3" stroke="#3d3da6" stroke-width="0.8" />
<line x1="944.8" y1="107.2" x2="980.3" y2="107.2" stroke="#3d3da6" stroke-width="0.8" />
<line x1="946.7" y1="107.2" x2="946.7" y2="126.2" stroke="#3d3da6" stroke-width="0.8" />
<text x="944.4" y="120.4" font-size="9.5" text-anchor="middle" fill="#3d3da6" transform="rotate(-90 944.4 120.4)" >H1</text>
<line x1="844.8" y1="144.4" x2="844.8" y2="289.4" stroke="#3d3da6" stroke-width="0.8" marker-start="url(#ar)" marker-end="url(#ar)"/>
<line x1="842.9" y1="144.4" x2="891.1" y2="144.4" stroke="#3d3da6" stroke-width="0.8" />
<line x1="842.9" y1="289.4" x2="891.1" y2="289.4" stroke="#3d3da6" stroke-width="0.8" />
<text x="842.0" y="216.2" font-size="10" text-anchor="middle" fill="#3d3da6" transform="rotate(-90 842.0 216.2)" >øD</text>
<line x1="858.7" y1="161.3" x2="858.7" y2="270.6" stroke="#3d3da6" stroke-width="0.8" marker-start="url(#ar)" marker-end="url(#ar)"/>
<line x1="856.8" y1="161.3" x2="891.1" y2="161.3" stroke="#3d3da6" stroke-width="0.8" />
<line x1="856.8" y1="270.6" x2="891.1" y2="270.6" stroke="#3d3da6" stroke-width="0.8" />
<text x="855.9" y="216.2" font-size="10" text-anchor="middle" fill="#3d3da6" transform="rotate(-90 855.9 216.2)" >øC</text>
<line x1="872.6" y1="173.5" x2="872.6" y2="257.9" stroke="#3d3da6" stroke-width="0.8" marker-start="url(#ar)" marker-end="url(#ar)"/>
<line x1="870.7" y1="173.5" x2="891.1" y2="173.5" stroke="#3d3da6" stroke-width="0.8" />
<line x1="870.7" y1="257.9" x2="891.1" y2="257.9" stroke="#3d3da6" stroke-width="0.8" />
<text x="869.8" y="216.2" font-size="10" text-anchor="middle" fill="#3d3da6" transform="rotate(-90 869.8 216.2)" >øG</text>
<line x1="886.0" y1="196.0" x2="886.0" y2="236.6" stroke="#3d3da6" stroke-width="0.8" marker-start="url(#ar)" marker-end="url(#ar)"/>
<line x1="884.1" y1="196.0" x2="891.1" y2="196.0" stroke="#3d3da6" stroke-width="0.8" />
<line x1="884.1" y1="236.6" x2="891.1" y2="236.6" stroke="#3d3da6" stroke-width="0.8" />
<text x="883.2" y="216.2" font-size="10" text-anchor="middle" fill="#3d3da6" transform="rotate(-90 883.2 216.2)" >ød</text>
<line x1="891.1" y1="289.9" x2="891.1" y2="329.2" stroke="#3d3da6" stroke-width="0.8" />
<line x1="907.3" y1="289.9" x2="907.3" y2="320.0" stroke="#3d3da6" stroke-width="0.8" />
<line x1="1135.5" y1="289.9" x2="1135.5" y2="329.2" stroke="#3d3da6" stroke-width="0.8" />
<line x1="891.1" y1="325.8" x2="1135.5" y2="325.8" stroke="#3d3da6" stroke-width="0.8" marker-start="url(#ar)" marker-end="url(#ar)"/>
<text x="1011.6" y="324.2" font-size="9.5" text-anchor="middle" fill="#3d3da6" >L</text>
<line x1="891.1" y1="317.7" x2="907.3" y2="317.7" stroke="#3d3da6" stroke-width="0.8" marker-start="url(#ar)" marker-end="url(#ar)"/>
<text x="902.7" y="309.6" font-size="9.5" text-anchor="middle" fill="#3d3da6" transform="rotate(-90 902.7 309.6)" >T</text>
<line x1="923.5" y1="260.9" x2="923.5" y2="317.7" stroke="#3d3da6" stroke-width="0.8" />
<line x1="907.3" y1="260.9" x2="925.4" y2="260.9" stroke="#3d3da6" stroke-width="0.8" />
<line x1="907.3" y1="280.6" x2="925.4" y2="280.6" stroke="#3d3da6" stroke-width="0.8" />
<text x="920.8" y="302.6" font-size="9.5" text-anchor="middle" fill="#3d3da6" transform="rotate(-90 920.8 302.6)" >N-øM</text>
<line x1="1152.0" y1="43.3" x2="1019.7" y2="40.5" stroke="#3d3da6" stroke-width="0.8" />
<circle cx="1157.1" cy="43.3" r="5.1" fill="#fff" stroke="#3d3da6" stroke-width="1.1" />
<text x="1157.1" y="46.3" font-size="8.3" text-anchor="middle" fill="#3d3da6" font-weight="bold">15</text>
<line x1="1152.0" y1="90.3" x2="1111.2" y2="79.4" stroke="#3d3da6" stroke-width="0.8" />
<circle cx="1157.1" cy="90.3" r="5.1" fill="#fff" stroke="#3d3da6" stroke-width="1.1" />
<text x="1157.1" y="93.3" font-size="8.3" text-anchor="middle" fill="#3d3da6" font-weight="bold">14</text>
<line x1="1152.0" y1="104.2" x2="1071.8" y2="82.7" stroke="#3d3da6" stroke-width="0.8" />
<circle cx="1157.1" cy="104.2" r="5.1" fill="#fff" stroke="#3d3da6" stroke-width="1.1" />
<text x="1157.1" y="107.2" font-size="8.3" text-anchor="middle" fill="#3d3da6" font-weight="bold">13</text>
<line x1="1152.0" y1="117.6" x2="1048.6" y2="104.2" stroke="#3d3da6" stroke-width="0.8" />
<circle cx="1157.1" cy="117.6" r="5.1" fill="#fff" stroke="#3d3da6" stroke-width="1.1" />
<text x="1157.1" y="120.7" font-size="8.3" text-anchor="middle" fill="#3d3da6" font-weight="bold">12</text>
<line x1="1152.0" y1="130.8" x2="1047.5" y2="116.5" stroke="#3d3da6" stroke-width="0.8" />
<circle cx="1157.1" cy="130.8" r="5.1" fill="#fff" stroke="#3d3da6" stroke-width="1.1" />
<text x="1157.1" y="133.9" font-size="8.3" text-anchor="middle" fill="#3d3da6" font-weight="bold">11</text>
<line x1="1152.0" y1="144.7" x2="1039.4" y2="121.1" stroke="#3d3da6" stroke-width="0.8" />
<circle cx="1157.1" cy="144.7" r="5.1" fill="#fff" stroke="#3d3da6" stroke-width="1.1" />
<text x="1157.1" y="147.8" font-size="8.3" text-anchor="middle" fill="#3d3da6" font-weight="bold">10</text>
<line x1="1152.0" y1="158.2" x2="1041.7" y2="129.0" stroke="#3d3da6" stroke-width="0.8" />
<circle cx="1157.1" cy="158.2" r="5.1" fill="#fff" stroke="#3d3da6" stroke-width="1.1" />
<text x="1157.1" y="161.2" font-size="8.3" text-anchor="middle" fill="#3d3da6" font-weight="bold">9</text>
<line x1="1152.0" y1="171.6" x2="1032.4" y2="141.3" stroke="#3d3da6" stroke-width="0.8" />
<circle cx="1157.1" cy="171.6" r="5.1" fill="#fff" stroke="#3d3da6" stroke-width="1.1" />
<text x="1157.1" y="174.6" font-size="8.3" text-anchor="middle" fill="#3d3da6" font-weight="bold">8</text>
<line x1="1152.0" y1="184.8" x2="1063.7" y2="144.7" stroke="#3d3da6" stroke-width="0.8" />
<circle cx="1157.1" cy="184.8" r="5.1" fill="#fff" stroke="#3d3da6" stroke-width="1.1" />
<text x="1157.1" y="187.8" font-size="8.3" text-anchor="middle" fill="#3d3da6" font-weight="bold">7</text>
<line x1="1152.0" y1="198.3" x2="1069.5" y2="154.0" stroke="#3d3da6" stroke-width="0.8" />
<circle cx="1157.1" cy="198.3" r="5.1" fill="#fff" stroke="#3d3da6" stroke-width="1.1" />
<text x="1157.1" y="201.3" font-size="8.3" text-anchor="middle" fill="#3d3da6" font-weight="bold">6</text>
<line x1="1152.0" y1="211.7" x2="1032.4" y2="156.8" stroke="#3d3da6" stroke-width="0.8" />
<circle cx="1157.1" cy="211.7" r="5.1" fill="#fff" stroke="#3d3da6" stroke-width="1.1" />
<text x="1157.1" y="214.7" font-size="8.3" text-anchor="middle" fill="#3d3da6" font-weight="bold">5</text>
<line x1="1152.0" y1="225.4" x2="1051.0" y2="209.2" stroke="#3d3da6" stroke-width="0.8" />
<circle cx="1157.1" cy="225.4" r="5.1" fill="#fff" stroke="#3d3da6" stroke-width="1.1" />
<text x="1157.1" y="228.4" font-size="8.3" text-anchor="middle" fill="#3d3da6" font-weight="bold">4</text>
<line x1="1152.0" y1="238.8" x2="1031.3" y2="230.0" stroke="#3d3da6" stroke-width="0.8" />
<circle cx="1157.1" cy="238.8" r="5.1" fill="#fff" stroke="#3d3da6" stroke-width="1.1" />
<text x="1157.1" y="241.8" font-size="8.3" text-anchor="middle" fill="#3d3da6" font-weight="bold">3</text>
<line x1="1152.0" y1="252.3" x2="1118.2" y2="244.4" stroke="#3d3da6" stroke-width="0.8" />
<circle cx="1157.1" cy="252.3" r="5.1" fill="#fff" stroke="#3d3da6" stroke-width="1.1" />
<text x="1157.1" y="255.3" font-size="8.3" text-anchor="middle" fill="#3d3da6" font-weight="bold">2</text>
<line x1="1152.0" y1="266.6" x2="1064.9" y2="260.1" stroke="#3d3da6" stroke-width="0.8" />
<circle cx="1157.1" cy="266.6" r="5.1" fill="#fff" stroke="#3d3da6" stroke-width="1.1" />
<text x="1157.1" y="269.6" font-size="8.3" text-anchor="middle" fill="#3d3da6" font-weight="bold">1</text>
<line x1="1152.0" y1="281.0" x2="1031.3" y2="261.1" stroke="#3d3da6" stroke-width="0.8" />
<circle cx="1157.1" cy="281.0" r="5.1" fill="#fff" stroke="#3d3da6" stroke-width="1.1" />
<text x="1157.1" y="284.0" font-size="8.3" text-anchor="middle" fill="#3d3da6" font-weight="bold">16</text>
<line x1="932.8" y1="147.1" x2="944.4" y2="150.5" stroke="#3d3da6" stroke-width="0.8" />
<circle cx="927.7" cy="146.6" r="5.1" fill="#fff" stroke="#3d3da6" stroke-width="0.9" />
<text x="927.7" y="149.6" font-size="8.3" text-anchor="middle" fill="#3d3da6" font-weight="bold">22</text>
</g>
<g id="drawing-top">
<rect x="1215.2" y="85.3" width="3.1" height="104.4" rx="1.0" fill="#fff" stroke="#1e1e24" stroke-width="1.43"/>
<rect x="1217.9" y="53.9" width="17.5" height="171.0" rx="3.1" fill="#fff" stroke="#1e1e24" stroke-width="1.69"/>
<path d="M1235.4,98.3Q1236.1,108.3 1245.3,108.8L1280.5,108.8L1280.5,170.1L1245.3,170.1Q1236.1,170.9 1235.4,180.6Z" fill="#fff" stroke="#1e1e24" stroke-width="1.43" stroke-linejoin="round" />
<rect x="1267.5" y="95.2" width="13.1" height="13.1" rx="1.3" fill="#fff" stroke="#1e1e24" stroke-width="1.43"/>
<rect x="1267.5" y="170.9" width="13.1" height="13.1" rx="1.3" fill="#fff" stroke="#1e1e24" stroke-width="1.43"/>
<rect x="1268.8" y="97.3" width="3.1" height="8.9" rx="0.8" fill="#fff" stroke="#3d3da6" stroke-width="0.8"/>
<rect x="1268.8" y="173.0" width="3.1" height="8.9" rx="0.8" fill="#fff" stroke="#3d3da6" stroke-width="0.8"/>
<rect x="1280.5" y="91.8" width="14.4" height="95.3" rx="2.6" fill="#fff" stroke="#1e1e24" stroke-width="1.69"/>
<line x1="1283.1" y1="105.4" x2="1297.5" y2="105.4" stroke="#e23a3a" stroke-width="0.7" />
<line x1="1283.1" y1="172.7" x2="1297.5" y2="172.7" stroke="#e23a3a" stroke-width="0.7" />
<rect x="1503.5" y="85.3" width="3.1" height="104.4" rx="1.0" fill="#fff" stroke="#1e1e24" stroke-width="1.43"/>
<rect x="1486.5" y="53.9" width="17.5" height="171.0" rx="3.1" fill="#fff" stroke="#1e1e24" stroke-width="1.69"/>
<path d="M1486.5,98.3Q1485.7,108.3 1476.6,108.8L1441.4,108.8L1441.4,170.1L1476.6,170.1Q1485.7,170.9 1486.5,180.6Z" fill="#fff" stroke="#1e1e24" stroke-width="1.43" stroke-linejoin="round" />
<rect x="1441.4" y="95.2" width="13.1" height="13.1" rx="1.3" fill="#fff" stroke="#1e1e24" stroke-width="1.43"/>
<rect x="1441.4" y="170.9" width="13.1" height="13.1" rx="1.3" fill="#fff" stroke="#1e1e24" stroke-width="1.43"/>
<rect x="1450.0" y="97.3" width="3.1" height="8.9" rx="0.8" fill="#fff" stroke="#3d3da6" stroke-width="0.8"/>
<rect x="1450.0" y="173.0" width="3.1" height="8.9" rx="0.8" fill="#fff" stroke="#3d3da6" stroke-width="0.8"/>
<rect x="1427.0" y="91.8" width="14.4" height="95.3" rx="2.6" fill="#fff" stroke="#1e1e24" stroke-width="1.69"/>
<line x1="1438.7" y1="105.4" x2="1424.4" y2="105.4" stroke="#e23a3a" stroke-width="0.7" />
<line x1="1438.7" y1="172.7" x2="1424.4" y2="172.7" stroke="#e23a3a" stroke-width="0.7" />
<rect x="1297.5" y="75.4" width="126.6" height="127.4" rx="18.3" fill="#fff" stroke="#1e1e24" stroke-width="1.95"/>
<rect x="1300.6" y="78.7" width="120.4" height="120.9" rx="15.7" fill="#fff" stroke="#1e1e24" stroke-width="1.04"/>
<rect x="1314.5" y="50.8" width="24.8" height="8.9" rx="1.3" fill="#fff" stroke="#1e1e24" stroke-width="1.43"/>
<rect x="1382.3" y="50.8" width="24.8" height="8.9" rx="1.3" fill="#fff" stroke="#1e1e24" stroke-width="1.43"/>
<line x1="1322.3" y1="51.3" x2="1322.3" y2="59.2" stroke="#1e1e24" stroke-width="0.91" />
<line x1="1331.4" y1="51.3" x2="1331.4" y2="59.2" stroke="#1e1e24" stroke-width="0.91" />
<line x1="1390.2" y1="51.3" x2="1390.2" y2="59.2" stroke="#1e1e24" stroke-width="0.91" />
<line x1="1399.3" y1="51.3" x2="1399.3" y2="59.2" stroke="#1e1e24" stroke-width="0.91" />
<rect x="1313.2" y="59.2" width="95.3" height="13.6" rx="2.1" fill="#fff" stroke="#1e1e24" stroke-width="1.69"/>
<rect x="1313.2" y="204.1" width="95.3" height="14.4" rx="2.1" fill="#fff" stroke="#1e1e24" stroke-width="1.69"/>
<rect x="1314.5" y="218.4" width="14.4" height="10.4" rx="1.0" fill="#fff" stroke="#1e1e24" stroke-width="1.43"/>
<rect x="1392.8" y="218.4" width="14.4" height="10.4" rx="1.0" fill="#fff" stroke="#1e1e24" stroke-width="1.43"/>
<rect x="1317.1" y="226.3" width="9.1" height="4.2" rx="0.8" fill="#fff" stroke="#3d3da6" stroke-width="0.8"/>
<rect x="1395.4" y="226.3" width="9.1" height="4.2" rx="0.8" fill="#fff" stroke="#3d3da6" stroke-width="0.8"/>
<path d="M1328.8,218.4L1394.1,218.4L1394.1,255.0Q1394.6,263.6 1401.9,264.1L1321.0,264.1Q1328.3,263.6 1328.8,255.0Z" fill="#fff" stroke="#1e1e24" stroke-width="1.56" stroke-linejoin="round" />
<path d="M1351.0,219.7Q1355.5,241.9 1351.0,264.1M1370.6,219.7Q1366.2,241.9 1370.6,264.1" fill="none" stroke="#1e1e24" stroke-width="1.17" stroke-linejoin="round" />
<rect x="1309.2" y="281.1" width="103.1" height="4.2" rx="1.6" fill="#fff" stroke="#1e1e24" stroke-width="1.43"/>
<rect x="1274.0" y="264.1" width="172.8" height="18.3" rx="3.1" fill="#fff" stroke="#1e1e24" stroke-width="1.69"/>
<circle cx="1309.8" cy="88.4" r="12.0" fill="#fff" stroke="#1e1e24" stroke-width="2.08" />
<line x1="1301.9" y1="80.6" x2="1317.6" y2="96.2" stroke="#e23a3a" stroke-width="0.8" />
<line x1="1301.9" y1="96.2" x2="1317.6" y2="80.6" stroke="#e23a3a" stroke-width="0.8" />
<circle cx="1411.1" cy="88.4" r="12.0" fill="#fff" stroke="#1e1e24" stroke-width="2.08" />
<line x1="1403.2" y1="80.6" x2="1418.9" y2="96.2" stroke="#e23a3a" stroke-width="0.8" />
<line x1="1403.2" y1="96.2" x2="1418.9" y2="80.6" stroke="#e23a3a" stroke-width="0.8" />
<circle cx="1309.8" cy="188.4" r="12.0" fill="#fff" stroke="#1e1e24" stroke-width="2.08" />
<line x1="1301.9" y1="180.6" x2="1317.6" y2="196.2" stroke="#e23a3a" stroke-width="0.8" />
<line x1="1301.9" y1="196.2" x2="1317.6" y2="180.6" stroke="#e23a3a" stroke-width="0.8" />
<circle cx="1411.1" cy="188.4" r="12.0" fill="#fff" stroke="#1e1e24" stroke-width="2.08" />
<line x1="1403.2" y1="180.6" x2="1418.9" y2="196.2" stroke="#e23a3a" stroke-width="0.8" />
<line x1="1403.2" y1="196.2" x2="1418.9" y2="180.6" stroke="#e23a3a" stroke-width="0.8" />
<circle cx="1360.9" cy="139.3" r="71.0" fill="none" stroke="#e23a3a" stroke-width="0.7" />
<circle cx="1360.9" cy="139.3" r="43.3" fill="none" stroke="#e23a3a" stroke-width="0.7" />
<line x1="1406.6" y1="185.0" x2="1427.5" y2="205.9" stroke="#e23a3a" stroke-width="0.7" />
<line x1="1372.7" y1="151.1" x2="1385.7" y2="164.1" stroke="#e23a3a" stroke-width="0.7" />
<line x1="1406.6" y1="93.6" x2="1427.5" y2="72.7" stroke="#e23a3a" stroke-width="0.7" />
<line x1="1372.7" y1="127.6" x2="1385.7" y2="114.5" stroke="#e23a3a" stroke-width="0.7" />
<line x1="1315.2" y1="185.0" x2="1294.4" y2="205.9" stroke="#e23a3a" stroke-width="0.7" />
<line x1="1349.2" y1="151.1" x2="1336.1" y2="164.1" stroke="#e23a3a" stroke-width="0.7" />
<line x1="1315.2" y1="93.6" x2="1294.4" y2="72.7" stroke="#e23a3a" stroke-width="0.7" />
<line x1="1349.2" y1="127.6" x2="1336.1" y2="114.5" stroke="#e23a3a" stroke-width="0.7" />
<rect x="1319.7" y="97.0" width="82.2" height="82.8" rx="10.4" fill="#fff" stroke="#1e1e24" stroke-width="1.82"/>
<rect x="1323.1" y="100.4" width="75.7" height="76.2" rx="8.4" fill="#fff" stroke="#1e1e24" stroke-width="0.91"/>
<rect x="1327.5" y="116.1" width="66.6" height="46.2" rx="0.5" fill="url(#hatch2)" stroke="#1e1e24" stroke-width="1.3"/>
<circle cx="1330.9" cy="107.5" r="4.4" fill="#fff" stroke="#1e1e24" stroke-width="1.56" />
<circle cx="1330.9" cy="107.5" r="2.1" fill="#fff" stroke="#3d3da6" stroke-width="0.8" />
<circle cx="1330.9" cy="107.5" r="0.8" fill="#e23a3a" stroke="none" stroke-width="0" />
<circle cx="1391.0" cy="108.8" r="4.4" fill="#fff" stroke="#1e1e24" stroke-width="1.56" />
<circle cx="1391.0" cy="108.8" r="2.1" fill="#fff" stroke="#3d3da6" stroke-width="0.8" />
<circle cx="1391.0" cy="108.8" r="0.8" fill="#e23a3a" stroke="none" stroke-width="0" />
<circle cx="1330.9" cy="169.3" r="4.4" fill="#fff" stroke="#1e1e24" stroke-width="1.56" />
<circle cx="1330.9" cy="169.3" r="2.1" fill="#fff" stroke="#3d3da6" stroke-width="0.8" />
<circle cx="1330.9" cy="169.3" r="0.8" fill="#e23a3a" stroke="none" stroke-width="0" />
<circle cx="1391.0" cy="169.3" r="4.4" fill="#fff" stroke="#1e1e24" stroke-width="1.56" />
<circle cx="1391.0" cy="169.3" r="2.1" fill="#fff" stroke="#3d3da6" stroke-width="0.8" />
<circle cx="1391.0" cy="169.3" r="0.8" fill="#e23a3a" stroke="none" stroke-width="0" />
<circle cx="1330.9" cy="106.2" r="5.7" fill="none" stroke="#1e1e24" stroke-width="1.56" />
<path d="M1334.0,179.3L1362.8,162.3L1394.1,162.3" fill="none" stroke="#1e1e24" stroke-width="1.3" stroke-linejoin="round" />
<path d="M1360.9,125.0L1375.3,139.3L1360.9,153.7L1346.6,139.3Z" fill="#fff" stroke="#1e1e24" stroke-width="2.08" stroke-linejoin="round" />
<path d="M1360.9,128.4L1371.9,139.3L1360.9,150.3L1350.0,139.3Z" fill="none" stroke="#1e1e24" stroke-width="0.91" stroke-linejoin="round" />
<circle cx="1360.9" cy="139.3" r="2.3" fill="#fff" stroke="#3d3da6" stroke-width="0.9" />
<circle cx="1360.9" cy="139.3" r="1.0" fill="#e23a3a" stroke="none" stroke-width="0" />
<rect x="1194.4" y="121.8" width="114.9" height="34.5" rx="2.6" fill="#fff" stroke="#1e1e24" stroke-width="1.69"/>
<rect x="1413.7" y="121.8" width="113.6" height="34.5" rx="2.6" fill="#fff" stroke="#1e1e24" stroke-width="1.69"/>
<path d="M1309.2,124.4L1319.7,124.4M1309.2,153.7L1319.7,153.7M1413.7,124.4L1401.9,124.4M1413.7,153.7L1401.9,153.7" fill="none" stroke="#1e1e24" stroke-width="1.3" stroke-linejoin="round" />
<line x1="1191.7" y1="139.3" x2="1529.9" y2="139.3" stroke="#e23a3a" stroke-width="0.7" />
<line x1="1360.9" y1="46.1" x2="1360.9" y2="291.5" stroke="#e23a3a" stroke-width="0.7" />
<line x1="1325.7" y1="44.8" x2="1325.7" y2="76.1" stroke="#e23a3a" stroke-width="0.7" />
<line x1="1394.6" y1="44.8" x2="1394.6" y2="76.1" stroke="#e23a3a" stroke-width="0.7" />
<line x1="1325.7" y1="200.2" x2="1325.7" y2="226.3" stroke="#e23a3a" stroke-width="0.7" />
<line x1="1394.6" y1="200.2" x2="1394.6" y2="226.3" stroke="#e23a3a" stroke-width="0.7" />
<text x="1482.1" y="144.3" font-size="10.8" text-anchor="middle" fill="#25a45c" font-family="Liberation Serif, serif" textLength="72" lengthAdjust="spacingAndGlyphs">BALL VALVE</text>
<text x="1239.8" y="134.4" font-size="10.8" text-anchor="middle" fill="#25a45c" transform="rotate(180 1239.8 134.4)" font-family="Liberation Serif, serif" textLength="72" lengthAdjust="spacingAndGlyphs">BALL VALVE</text>
<text x="1423.6" y="136.2" font-size="8" text-anchor="middle" fill="#1e1e24" font-family="Liberation Serif, serif">ON</text>
<text x="1426.0" y="149.5" font-size="8" text-anchor="middle" fill="#1e1e24" font-family="Liberation Serif, serif">OFF</text>
<text x="1298.3" y="142.5" font-size="8" text-anchor="middle" fill="#1e1e24" transform="rotate(180 1298.3 142.5)" font-family="Liberation Serif, serif">ON</text>
<text x="1295.9" y="129.1" font-size="8" text-anchor="middle" fill="#1e1e24" transform="rotate(180 1295.9 129.1)" font-family="Liberation Serif, serif">OFF</text>
<path d="M1437.2,131.7Q1442.4,139.3 1437.2,147.4" fill="none" stroke="#1e1e24" stroke-width="1.56" stroke-linejoin="round" />
<path d="M1284.7,131.7Q1279.5,139.3 1284.7,147.4" fill="none" stroke="#1e1e24" stroke-width="1.56" stroke-linejoin="round" />
<path d="M1435.4,130.2L1439.0,131.2L1436.9,134.4ZM1435.4,149.0L1439.0,147.9L1436.9,144.8ZM1286.5,130.2L1282.9,131.2L1285.0,134.4ZM1286.5,149.0L1282.9,147.9L1285.0,144.8Z" fill="#1e1e24" stroke="none" stroke-width="0" stroke-linejoin="round" />
<line x1="1362.8" y1="151.9" x2="1437.2" y2="228.9" stroke="#3d3da6" stroke-width="0.8" />
<line x1="1374.5" y1="140.6" x2="1452.8" y2="214.5" stroke="#3d3da6" stroke-width="0.8" />
<line x1="1420.7" y1="242.5" x2="1484.2" y2="179.3" stroke="#3d3da6" stroke-width="0.8" />
<path d="M1434.6,228.9L1429.3,230.4L1432.7,233.8ZM1451.5,212.7L1456.8,211.1L1453.4,207.7Z" fill="#3d3da6" stroke="none" stroke-width="0" stroke-linejoin="round" />
<text x="1467.2" y="190.2" font-size="11.5" text-anchor="middle" fill="#3d3da6" transform="rotate(-45 1467.2 190.2)" >øW1</text>
<text x="1207.4" y="245.1" font-size="10.5" fill="#3d3da6" font-family="Liberation Mono, monospace" textLength="86" lengthAdjust="spacingAndGlyphs">ISO 5211 K</text>
<path d="M1207.4,247.9L1294.9,247.9L1352.8,184.5" fill="none" stroke="#3d3da6" stroke-width="0.8" stroke-linejoin="round" />
<path d="M1352.8,184.5L1347.1,187.1L1350.2,190.2Z" fill="#3d3da6" stroke="none" stroke-width="0" stroke-linejoin="round" />
<line x1="1264.1" y1="59.7" x2="1315.8" y2="94.4" stroke="#3d3da6" stroke-width="0.8" />
<circle cx="1258.3" cy="59.7" r="6.3" fill="#fff" stroke="#3d3da6" stroke-width="1.1" />
<text x="1258.3" y="62.8" font-size="8.8" text-anchor="middle" fill="#3d3da6" font-weight="bold">19</text>
<line x1="1264.1" y1="76.1" x2="1332.7" y2="110.1" stroke="#3d3da6" stroke-width="0.8" />
<circle cx="1258.3" cy="76.1" r="6.3" fill="#fff" stroke="#3d3da6" stroke-width="1.1" />
<text x="1258.3" y="79.3" font-size="8.8" text-anchor="middle" fill="#3d3da6" font-weight="bold">20</text>
<line x1="1264.1" y1="93.1" x2="1271.4" y2="98.3" stroke="#3d3da6" stroke-width="0.8" />
<circle cx="1258.3" cy="93.1" r="6.3" fill="#fff" stroke="#3d3da6" stroke-width="1.1" />
<text x="1258.3" y="96.2" font-size="8.8" text-anchor="middle" fill="#3d3da6" font-weight="bold">21</text>
<line x1="1524.9" y1="64.4" x2="1408.5" y2="52.6" stroke="#3d3da6" stroke-width="0.8" />
<circle cx="1530.7" cy="64.4" r="6.3" fill="#fff" stroke="#3d3da6" stroke-width="1.1" />
<text x="1530.7" y="67.5" font-size="8.8" text-anchor="middle" fill="#3d3da6" font-weight="bold">17</text>
<line x1="1524.9" y1="81.4" x2="1409.2" y2="68.3" stroke="#3d3da6" stroke-width="0.8" />
<circle cx="1530.7" cy="81.4" r="6.3" fill="#fff" stroke="#3d3da6" stroke-width="1.1" />
<text x="1530.7" y="84.5" font-size="8.8" text-anchor="middle" fill="#3d3da6" font-weight="bold">18</text>
</g>
</svg>
</body>
</html>
